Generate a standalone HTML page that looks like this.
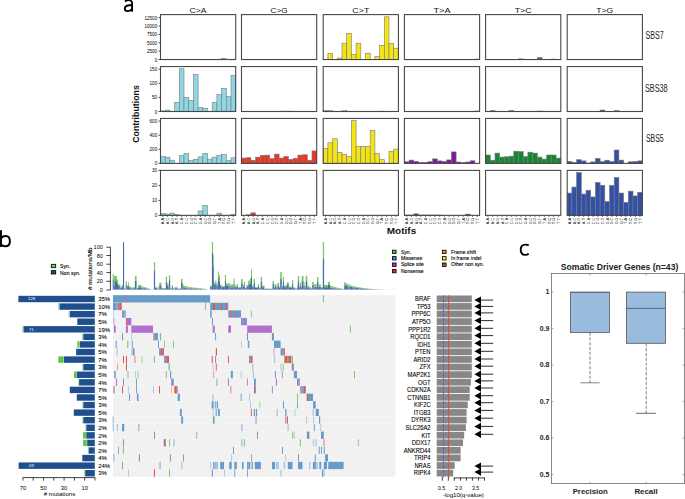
<!DOCTYPE html><html><head><meta charset="utf-8"><style>html,body{margin:0;padding:0;background:#fff;}svg{display:block;} text{font-family:"Liberation Sans",sans-serif;}</style></head><body>
<svg width="685" height="499" viewBox="0 0 685 499">
<rect x="0" y="0" width="685" height="499" fill="#fff"/>
<rect x="160.50" y="59.25" width="4.70" height="0.30" fill="#8cd7e4" stroke="#7a7a7a" stroke-width="0.6"/>
<rect x="165.20" y="59.25" width="4.70" height="0.30" fill="#8cd7e4" stroke="#7a7a7a" stroke-width="0.6"/>
<rect x="174.60" y="59.25" width="4.70" height="0.30" fill="#8cd7e4" stroke="#7a7a7a" stroke-width="0.6"/>
<rect x="179.30" y="59.25" width="4.70" height="0.30" fill="#8cd7e4" stroke="#7a7a7a" stroke-width="0.6"/>
<rect x="188.70" y="59.25" width="4.70" height="0.30" fill="#8cd7e4" stroke="#7a7a7a" stroke-width="0.6"/>
<rect x="193.40" y="59.25" width="4.70" height="0.30" fill="#8cd7e4" stroke="#7a7a7a" stroke-width="0.6"/>
<rect x="216.90" y="59.25" width="4.70" height="0.30" fill="#8cd7e4" stroke="#7a7a7a" stroke-width="0.6"/>
<rect x="221.60" y="58.35" width="4.70" height="1.20" fill="#8cd7e4" stroke="#7a7a7a" stroke-width="0.6"/>
<rect x="226.30" y="59.25" width="4.70" height="0.30" fill="#8cd7e4" stroke="#7a7a7a" stroke-width="0.6"/>
<rect x="231.00" y="59.25" width="4.70" height="0.30" fill="#8cd7e4" stroke="#7a7a7a" stroke-width="0.6"/>
<rect x="160.5" y="14.6" width="75.2" height="44.95" fill="none" stroke="#484848" stroke-width="1.1"/>
<rect x="274.40" y="59.25" width="4.70" height="0.30" fill="#e83723" stroke="#7a7a7a" stroke-width="0.6"/>
<rect x="279.10" y="59.25" width="4.70" height="0.30" fill="#e83723" stroke="#7a7a7a" stroke-width="0.6"/>
<rect x="307.30" y="59.25" width="4.70" height="0.30" fill="#e83723" stroke="#7a7a7a" stroke-width="0.6"/>
<rect x="312.00" y="59.25" width="4.70" height="0.30" fill="#e83723" stroke="#7a7a7a" stroke-width="0.6"/>
<rect x="241.5" y="14.6" width="75.2" height="44.95" fill="none" stroke="#484848" stroke-width="1.1"/>
<rect x="327.90" y="53.55" width="4.70" height="6.00" fill="#f5e414" stroke="#7a7a7a" stroke-width="0.6"/>
<rect x="337.30" y="58.05" width="4.70" height="1.50" fill="#f5e414" stroke="#7a7a7a" stroke-width="0.6"/>
<rect x="342.00" y="43.25" width="4.70" height="16.30" fill="#f5e414" stroke="#7a7a7a" stroke-width="0.6"/>
<rect x="346.70" y="33.45" width="4.70" height="26.10" fill="#f5e414" stroke="#7a7a7a" stroke-width="0.6"/>
<rect x="351.40" y="54.55" width="4.70" height="5.00" fill="#f5e414" stroke="#7a7a7a" stroke-width="0.6"/>
<rect x="356.10" y="43.25" width="4.70" height="16.30" fill="#f5e414" stroke="#7a7a7a" stroke-width="0.6"/>
<rect x="365.50" y="53.25" width="4.70" height="6.30" fill="#f5e414" stroke="#7a7a7a" stroke-width="0.6"/>
<rect x="374.90" y="56.65" width="4.70" height="2.90" fill="#f5e414" stroke="#7a7a7a" stroke-width="0.6"/>
<rect x="379.60" y="45.35" width="4.70" height="14.20" fill="#f5e414" stroke="#7a7a7a" stroke-width="0.6"/>
<rect x="384.30" y="16.85" width="4.70" height="42.70" fill="#f5e414" stroke="#7a7a7a" stroke-width="0.6"/>
<rect x="389.00" y="43.65" width="4.70" height="15.90" fill="#f5e414" stroke="#7a7a7a" stroke-width="0.6"/>
<rect x="393.70" y="48.25" width="4.70" height="11.30" fill="#f5e414" stroke="#7a7a7a" stroke-width="0.6"/>
<rect x="323.2" y="14.6" width="75.2" height="44.95" fill="none" stroke="#484848" stroke-width="1.1"/>
<rect x="474.90" y="59.05" width="4.70" height="0.50" fill="#8214a0" stroke="#7a7a7a" stroke-width="0.6"/>
<rect x="404.4" y="14.6" width="75.2" height="44.95" fill="none" stroke="#484848" stroke-width="1.1"/>
<rect x="518.50" y="58.85" width="4.70" height="0.70" fill="#148732" stroke="#7a7a7a" stroke-width="0.6"/>
<rect x="537.30" y="57.55" width="4.70" height="2.00" fill="#148732" stroke="#7a7a7a" stroke-width="0.6"/>
<rect x="551.40" y="59.05" width="4.70" height="0.50" fill="#148732" stroke="#7a7a7a" stroke-width="0.6"/>
<rect x="485.6" y="14.6" width="75.2" height="44.95" fill="none" stroke="#484848" stroke-width="1.1"/>
<rect x="567.20" y="59.25" width="4.70" height="0.30" fill="#3250a5" stroke="#7a7a7a" stroke-width="0.6"/>
<rect x="581.30" y="59.25" width="4.70" height="0.30" fill="#3250a5" stroke="#7a7a7a" stroke-width="0.6"/>
<rect x="595.40" y="59.25" width="4.70" height="0.30" fill="#3250a5" stroke="#7a7a7a" stroke-width="0.6"/>
<rect x="609.50" y="59.25" width="4.70" height="0.30" fill="#3250a5" stroke="#7a7a7a" stroke-width="0.6"/>
<rect x="567.2" y="14.6" width="75.2" height="44.95" fill="none" stroke="#484848" stroke-width="1.1"/>
<rect x="160.50" y="110.90" width="4.70" height="0.60" fill="#8cd7e4" stroke="#7a7a7a" stroke-width="0.6"/>
<rect x="165.20" y="110.10" width="4.70" height="1.40" fill="#8cd7e4" stroke="#7a7a7a" stroke-width="0.6"/>
<rect x="174.60" y="102.40" width="4.70" height="9.10" fill="#8cd7e4" stroke="#7a7a7a" stroke-width="0.6"/>
<rect x="179.30" y="68.70" width="4.70" height="42.80" fill="#8cd7e4" stroke="#7a7a7a" stroke-width="0.6"/>
<rect x="184.00" y="97.50" width="4.70" height="14.00" fill="#8cd7e4" stroke="#7a7a7a" stroke-width="0.6"/>
<rect x="188.70" y="100.30" width="4.70" height="11.20" fill="#8cd7e4" stroke="#7a7a7a" stroke-width="0.6"/>
<rect x="193.40" y="74.50" width="4.70" height="37.00" fill="#8cd7e4" stroke="#7a7a7a" stroke-width="0.6"/>
<rect x="198.10" y="107.40" width="4.70" height="4.10" fill="#8cd7e4" stroke="#7a7a7a" stroke-width="0.6"/>
<rect x="202.80" y="108.30" width="4.70" height="3.20" fill="#8cd7e4" stroke="#7a7a7a" stroke-width="0.6"/>
<rect x="212.20" y="102.40" width="4.70" height="9.10" fill="#8cd7e4" stroke="#7a7a7a" stroke-width="0.6"/>
<rect x="216.90" y="94.40" width="4.70" height="17.10" fill="#8cd7e4" stroke="#7a7a7a" stroke-width="0.6"/>
<rect x="221.60" y="88.50" width="4.70" height="23.00" fill="#8cd7e4" stroke="#7a7a7a" stroke-width="0.6"/>
<rect x="226.30" y="96.50" width="4.70" height="15.00" fill="#8cd7e4" stroke="#7a7a7a" stroke-width="0.6"/>
<rect x="231.00" y="75.50" width="4.70" height="36.00" fill="#8cd7e4" stroke="#7a7a7a" stroke-width="0.6"/>
<rect x="160.5" y="66.55" width="75.2" height="44.95" fill="none" stroke="#484848" stroke-width="1.1"/>
<rect x="279.10" y="111.20" width="4.70" height="0.30" fill="#e83723" stroke="#7a7a7a" stroke-width="0.6"/>
<rect x="283.80" y="111.20" width="4.70" height="0.30" fill="#e83723" stroke="#7a7a7a" stroke-width="0.6"/>
<rect x="288.50" y="111.20" width="4.70" height="0.30" fill="#e83723" stroke="#7a7a7a" stroke-width="0.6"/>
<rect x="241.5" y="66.55" width="75.2" height="44.95" fill="none" stroke="#484848" stroke-width="1.1"/>
<rect x="323.20" y="110.50" width="4.70" height="1.00" fill="#f5e414" stroke="#7a7a7a" stroke-width="0.6"/>
<rect x="327.90" y="110.50" width="4.70" height="1.00" fill="#f5e414" stroke="#7a7a7a" stroke-width="0.6"/>
<rect x="342.00" y="110.50" width="4.70" height="1.00" fill="#f5e414" stroke="#7a7a7a" stroke-width="0.6"/>
<rect x="379.60" y="111.20" width="4.70" height="0.30" fill="#f5e414" stroke="#7a7a7a" stroke-width="0.6"/>
<rect x="323.2" y="66.55" width="75.2" height="44.95" fill="none" stroke="#484848" stroke-width="1.1"/>
<rect x="474.90" y="111.00" width="4.70" height="0.50" fill="#8214a0" stroke="#7a7a7a" stroke-width="0.6"/>
<rect x="404.4" y="66.55" width="75.2" height="44.95" fill="none" stroke="#484848" stroke-width="1.1"/>
<rect x="490.30" y="110.50" width="4.70" height="1.00" fill="#148732" stroke="#7a7a7a" stroke-width="0.6"/>
<rect x="509.10" y="110.50" width="4.70" height="1.00" fill="#148732" stroke="#7a7a7a" stroke-width="0.6"/>
<rect x="537.30" y="111.00" width="4.70" height="0.50" fill="#148732" stroke="#7a7a7a" stroke-width="0.6"/>
<rect x="485.6" y="66.55" width="75.2" height="44.95" fill="none" stroke="#484848" stroke-width="1.1"/>
<rect x="600.10" y="110.00" width="4.70" height="1.50" fill="#3250a5" stroke="#7a7a7a" stroke-width="0.6"/>
<rect x="614.20" y="110.50" width="4.70" height="1.00" fill="#3250a5" stroke="#7a7a7a" stroke-width="0.6"/>
<rect x="567.2" y="66.55" width="75.2" height="44.95" fill="none" stroke="#484848" stroke-width="1.1"/>
<rect x="160.50" y="156.60" width="4.70" height="6.80" fill="#8cd7e4" stroke="#7a7a7a" stroke-width="0.6"/>
<rect x="165.20" y="157.20" width="4.70" height="6.20" fill="#8cd7e4" stroke="#7a7a7a" stroke-width="0.6"/>
<rect x="169.90" y="160.20" width="4.70" height="3.20" fill="#8cd7e4" stroke="#7a7a7a" stroke-width="0.6"/>
<rect x="179.30" y="155.70" width="4.70" height="7.70" fill="#8cd7e4" stroke="#7a7a7a" stroke-width="0.6"/>
<rect x="184.00" y="153.50" width="4.70" height="9.90" fill="#8cd7e4" stroke="#7a7a7a" stroke-width="0.6"/>
<rect x="188.70" y="160.50" width="4.70" height="2.90" fill="#8cd7e4" stroke="#7a7a7a" stroke-width="0.6"/>
<rect x="193.40" y="159.30" width="4.70" height="4.10" fill="#8cd7e4" stroke="#7a7a7a" stroke-width="0.6"/>
<rect x="198.10" y="156.90" width="4.70" height="6.50" fill="#8cd7e4" stroke="#7a7a7a" stroke-width="0.6"/>
<rect x="202.80" y="153.40" width="4.70" height="10.00" fill="#8cd7e4" stroke="#7a7a7a" stroke-width="0.6"/>
<rect x="207.50" y="159.10" width="4.70" height="4.30" fill="#8cd7e4" stroke="#7a7a7a" stroke-width="0.6"/>
<rect x="212.20" y="157.20" width="4.70" height="6.20" fill="#8cd7e4" stroke="#7a7a7a" stroke-width="0.6"/>
<rect x="216.90" y="155.30" width="4.70" height="8.10" fill="#8cd7e4" stroke="#7a7a7a" stroke-width="0.6"/>
<rect x="221.60" y="154.50" width="4.70" height="8.90" fill="#8cd7e4" stroke="#7a7a7a" stroke-width="0.6"/>
<rect x="226.30" y="160.70" width="4.70" height="2.70" fill="#8cd7e4" stroke="#7a7a7a" stroke-width="0.6"/>
<rect x="231.00" y="157.80" width="4.70" height="5.60" fill="#8cd7e4" stroke="#7a7a7a" stroke-width="0.6"/>
<rect x="160.5" y="118.45" width="75.2" height="44.95" fill="none" stroke="#484848" stroke-width="1.1"/>
<rect x="241.50" y="158.10" width="4.70" height="5.30" fill="#e83723" stroke="#7a7a7a" stroke-width="0.6"/>
<rect x="246.20" y="157.70" width="4.70" height="5.70" fill="#e83723" stroke="#7a7a7a" stroke-width="0.6"/>
<rect x="250.90" y="160.30" width="4.70" height="3.10" fill="#e83723" stroke="#7a7a7a" stroke-width="0.6"/>
<rect x="255.60" y="157.20" width="4.70" height="6.20" fill="#e83723" stroke="#7a7a7a" stroke-width="0.6"/>
<rect x="260.30" y="155.30" width="4.70" height="8.10" fill="#e83723" stroke="#7a7a7a" stroke-width="0.6"/>
<rect x="265.00" y="155.10" width="4.70" height="8.30" fill="#e83723" stroke="#7a7a7a" stroke-width="0.6"/>
<rect x="269.70" y="158.70" width="4.70" height="4.70" fill="#e83723" stroke="#7a7a7a" stroke-width="0.6"/>
<rect x="274.40" y="154.10" width="4.70" height="9.30" fill="#e83723" stroke="#7a7a7a" stroke-width="0.6"/>
<rect x="279.10" y="158.10" width="4.70" height="5.30" fill="#e83723" stroke="#7a7a7a" stroke-width="0.6"/>
<rect x="283.80" y="156.60" width="4.70" height="6.80" fill="#e83723" stroke="#7a7a7a" stroke-width="0.6"/>
<rect x="288.50" y="159.30" width="4.70" height="4.10" fill="#e83723" stroke="#7a7a7a" stroke-width="0.6"/>
<rect x="293.20" y="158.30" width="4.70" height="5.10" fill="#e83723" stroke="#7a7a7a" stroke-width="0.6"/>
<rect x="297.90" y="155.10" width="4.70" height="8.30" fill="#e83723" stroke="#7a7a7a" stroke-width="0.6"/>
<rect x="302.60" y="154.80" width="4.70" height="8.60" fill="#e83723" stroke="#7a7a7a" stroke-width="0.6"/>
<rect x="307.30" y="160.20" width="4.70" height="3.20" fill="#e83723" stroke="#7a7a7a" stroke-width="0.6"/>
<rect x="312.00" y="150.90" width="4.70" height="12.50" fill="#e83723" stroke="#7a7a7a" stroke-width="0.6"/>
<rect x="241.5" y="118.45" width="75.2" height="44.95" fill="none" stroke="#484848" stroke-width="1.1"/>
<rect x="323.20" y="148.50" width="4.70" height="14.90" fill="#f5e414" stroke="#7a7a7a" stroke-width="0.6"/>
<rect x="327.90" y="142.80" width="4.70" height="20.60" fill="#f5e414" stroke="#7a7a7a" stroke-width="0.6"/>
<rect x="332.60" y="138.80" width="4.70" height="24.60" fill="#f5e414" stroke="#7a7a7a" stroke-width="0.6"/>
<rect x="337.30" y="152.50" width="4.70" height="10.90" fill="#f5e414" stroke="#7a7a7a" stroke-width="0.6"/>
<rect x="342.00" y="154.60" width="4.70" height="8.80" fill="#f5e414" stroke="#7a7a7a" stroke-width="0.6"/>
<rect x="346.70" y="156.50" width="4.70" height="6.90" fill="#f5e414" stroke="#7a7a7a" stroke-width="0.6"/>
<rect x="351.40" y="120.60" width="4.70" height="42.80" fill="#f5e414" stroke="#7a7a7a" stroke-width="0.6"/>
<rect x="356.10" y="146.50" width="4.70" height="16.90" fill="#f5e414" stroke="#7a7a7a" stroke-width="0.6"/>
<rect x="360.80" y="146.30" width="4.70" height="17.10" fill="#f5e414" stroke="#7a7a7a" stroke-width="0.6"/>
<rect x="365.50" y="146.50" width="4.70" height="16.90" fill="#f5e414" stroke="#7a7a7a" stroke-width="0.6"/>
<rect x="370.20" y="130.40" width="4.70" height="33.00" fill="#f5e414" stroke="#7a7a7a" stroke-width="0.6"/>
<rect x="374.90" y="153.50" width="4.70" height="9.90" fill="#f5e414" stroke="#7a7a7a" stroke-width="0.6"/>
<rect x="379.60" y="159.70" width="4.70" height="3.70" fill="#f5e414" stroke="#7a7a7a" stroke-width="0.6"/>
<rect x="389.00" y="151.50" width="4.70" height="11.90" fill="#f5e414" stroke="#7a7a7a" stroke-width="0.6"/>
<rect x="393.70" y="149.10" width="4.70" height="14.30" fill="#f5e414" stroke="#7a7a7a" stroke-width="0.6"/>
<rect x="323.2" y="118.45" width="75.2" height="44.95" fill="none" stroke="#484848" stroke-width="1.1"/>
<rect x="404.40" y="161.80" width="4.70" height="1.60" fill="#8214a0" stroke="#7a7a7a" stroke-width="0.6"/>
<rect x="409.10" y="160.10" width="4.70" height="3.30" fill="#8214a0" stroke="#7a7a7a" stroke-width="0.6"/>
<rect x="413.80" y="161.30" width="4.70" height="2.10" fill="#8214a0" stroke="#7a7a7a" stroke-width="0.6"/>
<rect x="418.50" y="162.40" width="4.70" height="1.00" fill="#8214a0" stroke="#7a7a7a" stroke-width="0.6"/>
<rect x="423.20" y="162.40" width="4.70" height="1.00" fill="#8214a0" stroke="#7a7a7a" stroke-width="0.6"/>
<rect x="427.90" y="161.70" width="4.70" height="1.70" fill="#8214a0" stroke="#7a7a7a" stroke-width="0.6"/>
<rect x="432.60" y="158.90" width="4.70" height="4.50" fill="#8214a0" stroke="#7a7a7a" stroke-width="0.6"/>
<rect x="437.30" y="160.90" width="4.70" height="2.50" fill="#8214a0" stroke="#7a7a7a" stroke-width="0.6"/>
<rect x="442.00" y="161.50" width="4.70" height="1.90" fill="#8214a0" stroke="#7a7a7a" stroke-width="0.6"/>
<rect x="446.70" y="159.90" width="4.70" height="3.50" fill="#8214a0" stroke="#7a7a7a" stroke-width="0.6"/>
<rect x="451.40" y="151.90" width="4.70" height="11.50" fill="#8214a0" stroke="#7a7a7a" stroke-width="0.6"/>
<rect x="456.10" y="162.00" width="4.70" height="1.40" fill="#8214a0" stroke="#7a7a7a" stroke-width="0.6"/>
<rect x="460.80" y="162.50" width="4.70" height="0.90" fill="#8214a0" stroke="#7a7a7a" stroke-width="0.6"/>
<rect x="465.50" y="162.00" width="4.70" height="1.40" fill="#8214a0" stroke="#7a7a7a" stroke-width="0.6"/>
<rect x="470.20" y="160.80" width="4.70" height="2.60" fill="#8214a0" stroke="#7a7a7a" stroke-width="0.6"/>
<rect x="404.4" y="118.45" width="75.2" height="44.95" fill="none" stroke="#484848" stroke-width="1.1"/>
<rect x="485.60" y="155.00" width="4.70" height="8.40" fill="#148732" stroke="#7a7a7a" stroke-width="0.6"/>
<rect x="490.30" y="160.20" width="4.70" height="3.20" fill="#148732" stroke="#7a7a7a" stroke-width="0.6"/>
<rect x="495.00" y="153.10" width="4.70" height="10.30" fill="#148732" stroke="#7a7a7a" stroke-width="0.6"/>
<rect x="499.70" y="157.10" width="4.70" height="6.30" fill="#148732" stroke="#7a7a7a" stroke-width="0.6"/>
<rect x="504.40" y="156.80" width="4.70" height="6.60" fill="#148732" stroke="#7a7a7a" stroke-width="0.6"/>
<rect x="509.10" y="156.20" width="4.70" height="7.20" fill="#148732" stroke="#7a7a7a" stroke-width="0.6"/>
<rect x="513.80" y="151.20" width="4.70" height="12.20" fill="#148732" stroke="#7a7a7a" stroke-width="0.6"/>
<rect x="518.50" y="151.60" width="4.70" height="11.80" fill="#148732" stroke="#7a7a7a" stroke-width="0.6"/>
<rect x="523.20" y="156.60" width="4.70" height="6.80" fill="#148732" stroke="#7a7a7a" stroke-width="0.6"/>
<rect x="527.90" y="152.20" width="4.70" height="11.20" fill="#148732" stroke="#7a7a7a" stroke-width="0.6"/>
<rect x="532.60" y="153.10" width="4.70" height="10.30" fill="#148732" stroke="#7a7a7a" stroke-width="0.6"/>
<rect x="537.30" y="157.10" width="4.70" height="6.30" fill="#148732" stroke="#7a7a7a" stroke-width="0.6"/>
<rect x="542.00" y="159.10" width="4.70" height="4.30" fill="#148732" stroke="#7a7a7a" stroke-width="0.6"/>
<rect x="546.70" y="155.00" width="4.70" height="8.40" fill="#148732" stroke="#7a7a7a" stroke-width="0.6"/>
<rect x="551.40" y="155.00" width="4.70" height="8.40" fill="#148732" stroke="#7a7a7a" stroke-width="0.6"/>
<rect x="556.10" y="158.10" width="4.70" height="5.30" fill="#148732" stroke="#7a7a7a" stroke-width="0.6"/>
<rect x="485.6" y="118.45" width="75.2" height="44.95" fill="none" stroke="#484848" stroke-width="1.1"/>
<rect x="567.20" y="161.40" width="4.70" height="2.00" fill="#3250a5" stroke="#7a7a7a" stroke-width="0.6"/>
<rect x="571.90" y="162.40" width="4.70" height="1.00" fill="#3250a5" stroke="#7a7a7a" stroke-width="0.6"/>
<rect x="576.60" y="159.70" width="4.70" height="3.70" fill="#3250a5" stroke="#7a7a7a" stroke-width="0.6"/>
<rect x="581.30" y="160.90" width="4.70" height="2.50" fill="#3250a5" stroke="#7a7a7a" stroke-width="0.6"/>
<rect x="586.00" y="163.10" width="4.70" height="0.30" fill="#3250a5" stroke="#7a7a7a" stroke-width="0.6"/>
<rect x="590.70" y="161.90" width="4.70" height="1.50" fill="#3250a5" stroke="#7a7a7a" stroke-width="0.6"/>
<rect x="595.40" y="158.40" width="4.70" height="5.00" fill="#3250a5" stroke="#7a7a7a" stroke-width="0.6"/>
<rect x="600.10" y="161.50" width="4.70" height="1.90" fill="#3250a5" stroke="#7a7a7a" stroke-width="0.6"/>
<rect x="604.80" y="160.20" width="4.70" height="3.20" fill="#3250a5" stroke="#7a7a7a" stroke-width="0.6"/>
<rect x="609.50" y="161.50" width="4.70" height="1.90" fill="#3250a5" stroke="#7a7a7a" stroke-width="0.6"/>
<rect x="614.20" y="150.00" width="4.70" height="13.40" fill="#3250a5" stroke="#7a7a7a" stroke-width="0.6"/>
<rect x="618.90" y="160.10" width="4.70" height="3.30" fill="#3250a5" stroke="#7a7a7a" stroke-width="0.6"/>
<rect x="628.30" y="161.80" width="4.70" height="1.60" fill="#3250a5" stroke="#7a7a7a" stroke-width="0.6"/>
<rect x="633.00" y="161.50" width="4.70" height="1.90" fill="#3250a5" stroke="#7a7a7a" stroke-width="0.6"/>
<rect x="637.70" y="160.90" width="4.70" height="2.50" fill="#3250a5" stroke="#7a7a7a" stroke-width="0.6"/>
<rect x="567.2" y="118.45" width="75.2" height="44.95" fill="none" stroke="#484848" stroke-width="1.1"/>
<rect x="160.50" y="213.60" width="4.70" height="1.75" fill="#8cd7e4" stroke="#7a7a7a" stroke-width="0.6"/>
<rect x="165.20" y="214.15" width="4.70" height="1.20" fill="#8cd7e4" stroke="#7a7a7a" stroke-width="0.6"/>
<rect x="169.90" y="213.15" width="4.70" height="2.20" fill="#8cd7e4" stroke="#7a7a7a" stroke-width="0.6"/>
<rect x="174.60" y="214.75" width="4.70" height="0.60" fill="#8cd7e4" stroke="#7a7a7a" stroke-width="0.6"/>
<rect x="198.10" y="210.95" width="4.70" height="4.40" fill="#8cd7e4" stroke="#7a7a7a" stroke-width="0.6"/>
<rect x="202.80" y="205.45" width="4.70" height="9.90" fill="#8cd7e4" stroke="#7a7a7a" stroke-width="0.6"/>
<rect x="216.90" y="213.15" width="4.70" height="2.20" fill="#8cd7e4" stroke="#7a7a7a" stroke-width="0.6"/>
<rect x="231.00" y="214.65" width="4.70" height="0.70" fill="#8cd7e4" stroke="#7a7a7a" stroke-width="0.6"/>
<rect x="160.5" y="170.4" width="75.2" height="44.95" fill="none" stroke="#484848" stroke-width="1.1"/>
<rect x="246.20" y="214.85" width="4.70" height="0.50" fill="#e83723" stroke="#7a7a7a" stroke-width="0.6"/>
<rect x="250.90" y="212.85" width="4.70" height="2.50" fill="#e83723" stroke="#7a7a7a" stroke-width="0.6"/>
<rect x="241.5" y="170.4" width="75.2" height="44.95" fill="none" stroke="#484848" stroke-width="1.1"/>
<rect x="323.2" y="170.4" width="75.2" height="44.95" fill="none" stroke="#484848" stroke-width="1.1"/>
<rect x="404.40" y="215.05" width="4.70" height="0.30" fill="#8214a0" stroke="#7a7a7a" stroke-width="0.6"/>
<rect x="409.10" y="215.05" width="4.70" height="0.30" fill="#8214a0" stroke="#7a7a7a" stroke-width="0.6"/>
<rect x="413.80" y="213.85" width="4.70" height="1.50" fill="#8214a0" stroke="#7a7a7a" stroke-width="0.6"/>
<rect x="418.50" y="215.05" width="4.70" height="0.30" fill="#8214a0" stroke="#7a7a7a" stroke-width="0.6"/>
<rect x="423.20" y="215.05" width="4.70" height="0.30" fill="#8214a0" stroke="#7a7a7a" stroke-width="0.6"/>
<rect x="427.90" y="215.05" width="4.70" height="0.30" fill="#8214a0" stroke="#7a7a7a" stroke-width="0.6"/>
<rect x="432.60" y="215.05" width="4.70" height="0.30" fill="#8214a0" stroke="#7a7a7a" stroke-width="0.6"/>
<rect x="437.30" y="215.05" width="4.70" height="0.30" fill="#8214a0" stroke="#7a7a7a" stroke-width="0.6"/>
<rect x="465.50" y="214.15" width="4.70" height="1.20" fill="#8214a0" stroke="#7a7a7a" stroke-width="0.6"/>
<rect x="404.4" y="170.4" width="75.2" height="44.95" fill="none" stroke="#484848" stroke-width="1.1"/>
<rect x="485.6" y="170.4" width="75.2" height="44.95" fill="none" stroke="#484848" stroke-width="1.1"/>
<rect x="567.20" y="193.05" width="4.70" height="22.30" fill="#3250a5" stroke="#7a7a7a" stroke-width="0.6"/>
<rect x="571.90" y="187.05" width="4.70" height="28.30" fill="#3250a5" stroke="#7a7a7a" stroke-width="0.6"/>
<rect x="576.60" y="172.45" width="4.70" height="42.90" fill="#3250a5" stroke="#7a7a7a" stroke-width="0.6"/>
<rect x="581.30" y="194.05" width="4.70" height="21.30" fill="#3250a5" stroke="#7a7a7a" stroke-width="0.6"/>
<rect x="586.00" y="190.25" width="4.70" height="25.10" fill="#3250a5" stroke="#7a7a7a" stroke-width="0.6"/>
<rect x="590.70" y="196.95" width="4.70" height="18.40" fill="#3250a5" stroke="#7a7a7a" stroke-width="0.6"/>
<rect x="595.40" y="182.45" width="4.70" height="32.90" fill="#3250a5" stroke="#7a7a7a" stroke-width="0.6"/>
<rect x="600.10" y="185.25" width="4.70" height="30.10" fill="#3250a5" stroke="#7a7a7a" stroke-width="0.6"/>
<rect x="604.80" y="201.55" width="4.70" height="13.80" fill="#3250a5" stroke="#7a7a7a" stroke-width="0.6"/>
<rect x="609.50" y="185.45" width="4.70" height="29.90" fill="#3250a5" stroke="#7a7a7a" stroke-width="0.6"/>
<rect x="614.20" y="177.55" width="4.70" height="37.80" fill="#3250a5" stroke="#7a7a7a" stroke-width="0.6"/>
<rect x="618.90" y="193.05" width="4.70" height="22.30" fill="#3250a5" stroke="#7a7a7a" stroke-width="0.6"/>
<rect x="623.60" y="202.35" width="4.70" height="13.00" fill="#3250a5" stroke="#7a7a7a" stroke-width="0.6"/>
<rect x="628.30" y="191.15" width="4.70" height="24.20" fill="#3250a5" stroke="#7a7a7a" stroke-width="0.6"/>
<rect x="633.00" y="195.95" width="4.70" height="19.40" fill="#3250a5" stroke="#7a7a7a" stroke-width="0.6"/>
<rect x="637.70" y="192.25" width="4.70" height="23.10" fill="#3250a5" stroke="#7a7a7a" stroke-width="0.6"/>
<rect x="567.2" y="170.4" width="75.2" height="44.95" fill="none" stroke="#484848" stroke-width="1.1"/>
<text x="189.6" y="12.6" font-size="7" fill="#111" textLength="17" lengthAdjust="spacingAndGlyphs">C&gt;A</text>
<text x="270.6" y="12.6" font-size="7" fill="#111" textLength="17" lengthAdjust="spacingAndGlyphs">C&gt;G</text>
<text x="352.3" y="12.6" font-size="7" fill="#111" textLength="17" lengthAdjust="spacingAndGlyphs">C&gt;T</text>
<text x="433.5" y="12.6" font-size="7" fill="#111" textLength="17" lengthAdjust="spacingAndGlyphs">T&gt;A</text>
<text x="514.7" y="12.6" font-size="7" fill="#111" textLength="17" lengthAdjust="spacingAndGlyphs">T&gt;C</text>
<text x="596.3" y="12.6" font-size="7" fill="#111" textLength="17" lengthAdjust="spacingAndGlyphs">T&gt;G</text>
<line x1="158.5" y1="59.5" x2="160.5" y2="59.5" stroke="#222" stroke-width="0.8"/>
<text x="157.2" y="61.5" font-size="4.6" text-anchor="end" fill="#000">0</text>
<line x1="158.5" y1="51.1" x2="160.5" y2="51.1" stroke="#222" stroke-width="0.8"/>
<text x="157.2" y="53.1" font-size="4.6" text-anchor="end" fill="#000">2500</text>
<line x1="158.5" y1="42.8" x2="160.5" y2="42.8" stroke="#222" stroke-width="0.8"/>
<text x="157.2" y="44.8" font-size="4.6" text-anchor="end" fill="#000">5000</text>
<line x1="158.5" y1="34.4" x2="160.5" y2="34.4" stroke="#222" stroke-width="0.8"/>
<text x="157.2" y="36.4" font-size="4.6" text-anchor="end" fill="#000">7500</text>
<line x1="158.5" y1="26.1" x2="160.5" y2="26.1" stroke="#222" stroke-width="0.8"/>
<text x="157.2" y="28.1" font-size="4.6" text-anchor="end" fill="#000">10000</text>
<line x1="158.5" y1="17.7" x2="160.5" y2="17.7" stroke="#222" stroke-width="0.8"/>
<text x="157.2" y="19.7" font-size="4.6" text-anchor="end" fill="#000">12500</text>
<line x1="158.5" y1="111.5" x2="160.5" y2="111.5" stroke="#222" stroke-width="0.8"/>
<text x="157.2" y="113.5" font-size="4.6" text-anchor="end" fill="#000">0</text>
<line x1="158.5" y1="97.4" x2="160.5" y2="97.4" stroke="#222" stroke-width="0.8"/>
<text x="157.2" y="99.4" font-size="4.6" text-anchor="end" fill="#000">50</text>
<line x1="158.5" y1="83.3" x2="160.5" y2="83.3" stroke="#222" stroke-width="0.8"/>
<text x="157.2" y="85.3" font-size="4.6" text-anchor="end" fill="#000">100</text>
<line x1="158.5" y1="69.2" x2="160.5" y2="69.2" stroke="#222" stroke-width="0.8"/>
<text x="157.2" y="71.2" font-size="4.6" text-anchor="end" fill="#000">150</text>
<line x1="158.5" y1="163.4" x2="160.5" y2="163.4" stroke="#222" stroke-width="0.8"/>
<text x="157.2" y="165.4" font-size="4.6" text-anchor="end" fill="#000">0</text>
<line x1="158.5" y1="149.3" x2="160.5" y2="149.3" stroke="#222" stroke-width="0.8"/>
<text x="157.2" y="151.3" font-size="4.6" text-anchor="end" fill="#000">200</text>
<line x1="158.5" y1="135.2" x2="160.5" y2="135.2" stroke="#222" stroke-width="0.8"/>
<text x="157.2" y="137.2" font-size="4.6" text-anchor="end" fill="#000">400</text>
<line x1="158.5" y1="121.1" x2="160.5" y2="121.1" stroke="#222" stroke-width="0.8"/>
<text x="157.2" y="123.1" font-size="4.6" text-anchor="end" fill="#000">600</text>
<line x1="158.5" y1="215.35" x2="160.5" y2="215.35" stroke="#222" stroke-width="0.8"/>
<text x="157.2" y="217.3" font-size="4.6" text-anchor="end" fill="#000">0</text>
<line x1="158.5" y1="200.4" x2="160.5" y2="200.4" stroke="#222" stroke-width="0.8"/>
<text x="157.2" y="202.4" font-size="4.6" text-anchor="end" fill="#000">10</text>
<line x1="158.5" y1="185.4" x2="160.5" y2="185.4" stroke="#222" stroke-width="0.8"/>
<text x="157.2" y="187.4" font-size="4.6" text-anchor="end" fill="#000">20</text>
<line x1="158.5" y1="170.4" x2="160.5" y2="170.4" stroke="#222" stroke-width="0.8"/>
<text x="157.2" y="172.4" font-size="4.6" text-anchor="end" fill="#000">30</text>
<text x="645.6" y="38.7" font-size="10" fill="#222" textLength="18.1" lengthAdjust="spacingAndGlyphs">SBS7</text>
<text x="644.9" y="92.2" font-size="10" fill="#222" textLength="22.8" lengthAdjust="spacingAndGlyphs">SBS38</text>
<text x="645.9" y="141.5" font-size="10" fill="#222" textLength="17.8" lengthAdjust="spacingAndGlyphs">SBS5</text>
<line x1="162.85" y1="215.5" x2="162.85" y2="217.0" stroke="#222" stroke-width="0.6"/>
<text transform="translate(164.30,217.8) rotate(-90)" font-size="4.0" text-anchor="end" fill="#111" textLength="6.4" lengthAdjust="spacingAndGlyphs">A.A</text>
<line x1="167.55" y1="215.5" x2="167.55" y2="217.0" stroke="#222" stroke-width="0.6"/>
<text transform="translate(169.00,217.8) rotate(-90)" font-size="4.0" text-anchor="end" fill="#111" textLength="6.4" lengthAdjust="spacingAndGlyphs">A.C</text>
<line x1="172.25" y1="215.5" x2="172.25" y2="217.0" stroke="#222" stroke-width="0.6"/>
<text transform="translate(173.70,217.8) rotate(-90)" font-size="4.0" text-anchor="end" fill="#111" textLength="6.4" lengthAdjust="spacingAndGlyphs">A.G</text>
<line x1="176.95" y1="215.5" x2="176.95" y2="217.0" stroke="#222" stroke-width="0.6"/>
<text transform="translate(178.40,217.8) rotate(-90)" font-size="4.0" text-anchor="end" fill="#111" textLength="6.4" lengthAdjust="spacingAndGlyphs">A.T</text>
<line x1="181.65" y1="215.5" x2="181.65" y2="217.0" stroke="#222" stroke-width="0.6"/>
<text transform="translate(183.10,217.8) rotate(-90)" font-size="4.0" text-anchor="end" fill="#111" textLength="6.4" lengthAdjust="spacingAndGlyphs">C.A</text>
<line x1="186.35" y1="215.5" x2="186.35" y2="217.0" stroke="#222" stroke-width="0.6"/>
<text transform="translate(187.80,217.8) rotate(-90)" font-size="4.0" text-anchor="end" fill="#111" textLength="6.4" lengthAdjust="spacingAndGlyphs">C.C</text>
<line x1="191.05" y1="215.5" x2="191.05" y2="217.0" stroke="#222" stroke-width="0.6"/>
<text transform="translate(192.50,217.8) rotate(-90)" font-size="4.0" text-anchor="end" fill="#111" textLength="6.4" lengthAdjust="spacingAndGlyphs">C.G</text>
<line x1="195.75" y1="215.5" x2="195.75" y2="217.0" stroke="#222" stroke-width="0.6"/>
<text transform="translate(197.20,217.8) rotate(-90)" font-size="4.0" text-anchor="end" fill="#111" textLength="6.4" lengthAdjust="spacingAndGlyphs">C.T</text>
<line x1="200.45" y1="215.5" x2="200.45" y2="217.0" stroke="#222" stroke-width="0.6"/>
<text transform="translate(201.90,217.8) rotate(-90)" font-size="4.0" text-anchor="end" fill="#111" textLength="6.4" lengthAdjust="spacingAndGlyphs">G.A</text>
<line x1="205.15" y1="215.5" x2="205.15" y2="217.0" stroke="#222" stroke-width="0.6"/>
<text transform="translate(206.60,217.8) rotate(-90)" font-size="4.0" text-anchor="end" fill="#111" textLength="6.4" lengthAdjust="spacingAndGlyphs">G.C</text>
<line x1="209.85" y1="215.5" x2="209.85" y2="217.0" stroke="#222" stroke-width="0.6"/>
<text transform="translate(211.30,217.8) rotate(-90)" font-size="4.0" text-anchor="end" fill="#111" textLength="6.4" lengthAdjust="spacingAndGlyphs">G.G</text>
<line x1="214.55" y1="215.5" x2="214.55" y2="217.0" stroke="#222" stroke-width="0.6"/>
<text transform="translate(216.00,217.8) rotate(-90)" font-size="4.0" text-anchor="end" fill="#111" textLength="6.4" lengthAdjust="spacingAndGlyphs">G.T</text>
<line x1="219.25" y1="215.5" x2="219.25" y2="217.0" stroke="#222" stroke-width="0.6"/>
<text transform="translate(220.70,217.8) rotate(-90)" font-size="4.0" text-anchor="end" fill="#111" textLength="6.4" lengthAdjust="spacingAndGlyphs">T.A</text>
<line x1="223.95" y1="215.5" x2="223.95" y2="217.0" stroke="#222" stroke-width="0.6"/>
<text transform="translate(225.40,217.8) rotate(-90)" font-size="4.0" text-anchor="end" fill="#111" textLength="6.4" lengthAdjust="spacingAndGlyphs">T.C</text>
<line x1="228.65" y1="215.5" x2="228.65" y2="217.0" stroke="#222" stroke-width="0.6"/>
<text transform="translate(230.10,217.8) rotate(-90)" font-size="4.0" text-anchor="end" fill="#111" textLength="6.4" lengthAdjust="spacingAndGlyphs">T.G</text>
<line x1="233.35" y1="215.5" x2="233.35" y2="217.0" stroke="#222" stroke-width="0.6"/>
<text transform="translate(234.80,217.8) rotate(-90)" font-size="4.0" text-anchor="end" fill="#111" textLength="6.4" lengthAdjust="spacingAndGlyphs">T.T</text>
<line x1="243.85" y1="215.5" x2="243.85" y2="217.0" stroke="#222" stroke-width="0.6"/>
<text transform="translate(245.30,217.8) rotate(-90)" font-size="4.0" text-anchor="end" fill="#111" textLength="6.4" lengthAdjust="spacingAndGlyphs">A.A</text>
<line x1="248.55" y1="215.5" x2="248.55" y2="217.0" stroke="#222" stroke-width="0.6"/>
<text transform="translate(250.00,217.8) rotate(-90)" font-size="4.0" text-anchor="end" fill="#111" textLength="6.4" lengthAdjust="spacingAndGlyphs">A.C</text>
<line x1="253.25" y1="215.5" x2="253.25" y2="217.0" stroke="#222" stroke-width="0.6"/>
<text transform="translate(254.70,217.8) rotate(-90)" font-size="4.0" text-anchor="end" fill="#111" textLength="6.4" lengthAdjust="spacingAndGlyphs">A.G</text>
<line x1="257.95" y1="215.5" x2="257.95" y2="217.0" stroke="#222" stroke-width="0.6"/>
<text transform="translate(259.40,217.8) rotate(-90)" font-size="4.0" text-anchor="end" fill="#111" textLength="6.4" lengthAdjust="spacingAndGlyphs">A.T</text>
<line x1="262.65" y1="215.5" x2="262.65" y2="217.0" stroke="#222" stroke-width="0.6"/>
<text transform="translate(264.10,217.8) rotate(-90)" font-size="4.0" text-anchor="end" fill="#111" textLength="6.4" lengthAdjust="spacingAndGlyphs">C.A</text>
<line x1="267.35" y1="215.5" x2="267.35" y2="217.0" stroke="#222" stroke-width="0.6"/>
<text transform="translate(268.80,217.8) rotate(-90)" font-size="4.0" text-anchor="end" fill="#111" textLength="6.4" lengthAdjust="spacingAndGlyphs">C.C</text>
<line x1="272.05" y1="215.5" x2="272.05" y2="217.0" stroke="#222" stroke-width="0.6"/>
<text transform="translate(273.50,217.8) rotate(-90)" font-size="4.0" text-anchor="end" fill="#111" textLength="6.4" lengthAdjust="spacingAndGlyphs">C.G</text>
<line x1="276.75" y1="215.5" x2="276.75" y2="217.0" stroke="#222" stroke-width="0.6"/>
<text transform="translate(278.20,217.8) rotate(-90)" font-size="4.0" text-anchor="end" fill="#111" textLength="6.4" lengthAdjust="spacingAndGlyphs">C.T</text>
<line x1="281.45" y1="215.5" x2="281.45" y2="217.0" stroke="#222" stroke-width="0.6"/>
<text transform="translate(282.90,217.8) rotate(-90)" font-size="4.0" text-anchor="end" fill="#111" textLength="6.4" lengthAdjust="spacingAndGlyphs">G.A</text>
<line x1="286.15" y1="215.5" x2="286.15" y2="217.0" stroke="#222" stroke-width="0.6"/>
<text transform="translate(287.60,217.8) rotate(-90)" font-size="4.0" text-anchor="end" fill="#111" textLength="6.4" lengthAdjust="spacingAndGlyphs">G.C</text>
<line x1="290.85" y1="215.5" x2="290.85" y2="217.0" stroke="#222" stroke-width="0.6"/>
<text transform="translate(292.30,217.8) rotate(-90)" font-size="4.0" text-anchor="end" fill="#111" textLength="6.4" lengthAdjust="spacingAndGlyphs">G.G</text>
<line x1="295.55" y1="215.5" x2="295.55" y2="217.0" stroke="#222" stroke-width="0.6"/>
<text transform="translate(297.00,217.8) rotate(-90)" font-size="4.0" text-anchor="end" fill="#111" textLength="6.4" lengthAdjust="spacingAndGlyphs">G.T</text>
<line x1="300.25" y1="215.5" x2="300.25" y2="217.0" stroke="#222" stroke-width="0.6"/>
<text transform="translate(301.70,217.8) rotate(-90)" font-size="4.0" text-anchor="end" fill="#111" textLength="6.4" lengthAdjust="spacingAndGlyphs">T.A</text>
<line x1="304.95" y1="215.5" x2="304.95" y2="217.0" stroke="#222" stroke-width="0.6"/>
<text transform="translate(306.40,217.8) rotate(-90)" font-size="4.0" text-anchor="end" fill="#111" textLength="6.4" lengthAdjust="spacingAndGlyphs">T.C</text>
<line x1="309.65" y1="215.5" x2="309.65" y2="217.0" stroke="#222" stroke-width="0.6"/>
<text transform="translate(311.10,217.8) rotate(-90)" font-size="4.0" text-anchor="end" fill="#111" textLength="6.4" lengthAdjust="spacingAndGlyphs">T.G</text>
<line x1="314.35" y1="215.5" x2="314.35" y2="217.0" stroke="#222" stroke-width="0.6"/>
<text transform="translate(315.80,217.8) rotate(-90)" font-size="4.0" text-anchor="end" fill="#111" textLength="6.4" lengthAdjust="spacingAndGlyphs">T.T</text>
<line x1="325.55" y1="215.5" x2="325.55" y2="217.0" stroke="#222" stroke-width="0.6"/>
<text transform="translate(327.00,217.8) rotate(-90)" font-size="4.0" text-anchor="end" fill="#111" textLength="6.4" lengthAdjust="spacingAndGlyphs">A.A</text>
<line x1="330.25" y1="215.5" x2="330.25" y2="217.0" stroke="#222" stroke-width="0.6"/>
<text transform="translate(331.70,217.8) rotate(-90)" font-size="4.0" text-anchor="end" fill="#111" textLength="6.4" lengthAdjust="spacingAndGlyphs">A.C</text>
<line x1="334.95" y1="215.5" x2="334.95" y2="217.0" stroke="#222" stroke-width="0.6"/>
<text transform="translate(336.40,217.8) rotate(-90)" font-size="4.0" text-anchor="end" fill="#111" textLength="6.4" lengthAdjust="spacingAndGlyphs">A.G</text>
<line x1="339.65" y1="215.5" x2="339.65" y2="217.0" stroke="#222" stroke-width="0.6"/>
<text transform="translate(341.10,217.8) rotate(-90)" font-size="4.0" text-anchor="end" fill="#111" textLength="6.4" lengthAdjust="spacingAndGlyphs">A.T</text>
<line x1="344.35" y1="215.5" x2="344.35" y2="217.0" stroke="#222" stroke-width="0.6"/>
<text transform="translate(345.80,217.8) rotate(-90)" font-size="4.0" text-anchor="end" fill="#111" textLength="6.4" lengthAdjust="spacingAndGlyphs">C.A</text>
<line x1="349.05" y1="215.5" x2="349.05" y2="217.0" stroke="#222" stroke-width="0.6"/>
<text transform="translate(350.50,217.8) rotate(-90)" font-size="4.0" text-anchor="end" fill="#111" textLength="6.4" lengthAdjust="spacingAndGlyphs">C.C</text>
<line x1="353.75" y1="215.5" x2="353.75" y2="217.0" stroke="#222" stroke-width="0.6"/>
<text transform="translate(355.20,217.8) rotate(-90)" font-size="4.0" text-anchor="end" fill="#111" textLength="6.4" lengthAdjust="spacingAndGlyphs">C.G</text>
<line x1="358.45" y1="215.5" x2="358.45" y2="217.0" stroke="#222" stroke-width="0.6"/>
<text transform="translate(359.90,217.8) rotate(-90)" font-size="4.0" text-anchor="end" fill="#111" textLength="6.4" lengthAdjust="spacingAndGlyphs">C.T</text>
<line x1="363.15" y1="215.5" x2="363.15" y2="217.0" stroke="#222" stroke-width="0.6"/>
<text transform="translate(364.60,217.8) rotate(-90)" font-size="4.0" text-anchor="end" fill="#111" textLength="6.4" lengthAdjust="spacingAndGlyphs">G.A</text>
<line x1="367.85" y1="215.5" x2="367.85" y2="217.0" stroke="#222" stroke-width="0.6"/>
<text transform="translate(369.30,217.8) rotate(-90)" font-size="4.0" text-anchor="end" fill="#111" textLength="6.4" lengthAdjust="spacingAndGlyphs">G.C</text>
<line x1="372.55" y1="215.5" x2="372.55" y2="217.0" stroke="#222" stroke-width="0.6"/>
<text transform="translate(374.00,217.8) rotate(-90)" font-size="4.0" text-anchor="end" fill="#111" textLength="6.4" lengthAdjust="spacingAndGlyphs">G.G</text>
<line x1="377.25" y1="215.5" x2="377.25" y2="217.0" stroke="#222" stroke-width="0.6"/>
<text transform="translate(378.70,217.8) rotate(-90)" font-size="4.0" text-anchor="end" fill="#111" textLength="6.4" lengthAdjust="spacingAndGlyphs">G.T</text>
<line x1="381.95" y1="215.5" x2="381.95" y2="217.0" stroke="#222" stroke-width="0.6"/>
<text transform="translate(383.40,217.8) rotate(-90)" font-size="4.0" text-anchor="end" fill="#111" textLength="6.4" lengthAdjust="spacingAndGlyphs">T.A</text>
<line x1="386.65" y1="215.5" x2="386.65" y2="217.0" stroke="#222" stroke-width="0.6"/>
<text transform="translate(388.10,217.8) rotate(-90)" font-size="4.0" text-anchor="end" fill="#111" textLength="6.4" lengthAdjust="spacingAndGlyphs">T.C</text>
<line x1="391.35" y1="215.5" x2="391.35" y2="217.0" stroke="#222" stroke-width="0.6"/>
<text transform="translate(392.80,217.8) rotate(-90)" font-size="4.0" text-anchor="end" fill="#111" textLength="6.4" lengthAdjust="spacingAndGlyphs">T.G</text>
<line x1="396.05" y1="215.5" x2="396.05" y2="217.0" stroke="#222" stroke-width="0.6"/>
<text transform="translate(397.50,217.8) rotate(-90)" font-size="4.0" text-anchor="end" fill="#111" textLength="6.4" lengthAdjust="spacingAndGlyphs">T.T</text>
<line x1="406.75" y1="215.5" x2="406.75" y2="217.0" stroke="#222" stroke-width="0.6"/>
<text transform="translate(408.20,217.8) rotate(-90)" font-size="4.0" text-anchor="end" fill="#111" textLength="6.4" lengthAdjust="spacingAndGlyphs">A.A</text>
<line x1="411.45" y1="215.5" x2="411.45" y2="217.0" stroke="#222" stroke-width="0.6"/>
<text transform="translate(412.90,217.8) rotate(-90)" font-size="4.0" text-anchor="end" fill="#111" textLength="6.4" lengthAdjust="spacingAndGlyphs">A.C</text>
<line x1="416.15" y1="215.5" x2="416.15" y2="217.0" stroke="#222" stroke-width="0.6"/>
<text transform="translate(417.60,217.8) rotate(-90)" font-size="4.0" text-anchor="end" fill="#111" textLength="6.4" lengthAdjust="spacingAndGlyphs">A.G</text>
<line x1="420.85" y1="215.5" x2="420.85" y2="217.0" stroke="#222" stroke-width="0.6"/>
<text transform="translate(422.30,217.8) rotate(-90)" font-size="4.0" text-anchor="end" fill="#111" textLength="6.4" lengthAdjust="spacingAndGlyphs">A.T</text>
<line x1="425.55" y1="215.5" x2="425.55" y2="217.0" stroke="#222" stroke-width="0.6"/>
<text transform="translate(427.00,217.8) rotate(-90)" font-size="4.0" text-anchor="end" fill="#111" textLength="6.4" lengthAdjust="spacingAndGlyphs">C.A</text>
<line x1="430.25" y1="215.5" x2="430.25" y2="217.0" stroke="#222" stroke-width="0.6"/>
<text transform="translate(431.70,217.8) rotate(-90)" font-size="4.0" text-anchor="end" fill="#111" textLength="6.4" lengthAdjust="spacingAndGlyphs">C.C</text>
<line x1="434.95" y1="215.5" x2="434.95" y2="217.0" stroke="#222" stroke-width="0.6"/>
<text transform="translate(436.40,217.8) rotate(-90)" font-size="4.0" text-anchor="end" fill="#111" textLength="6.4" lengthAdjust="spacingAndGlyphs">C.G</text>
<line x1="439.65" y1="215.5" x2="439.65" y2="217.0" stroke="#222" stroke-width="0.6"/>
<text transform="translate(441.10,217.8) rotate(-90)" font-size="4.0" text-anchor="end" fill="#111" textLength="6.4" lengthAdjust="spacingAndGlyphs">C.T</text>
<line x1="444.35" y1="215.5" x2="444.35" y2="217.0" stroke="#222" stroke-width="0.6"/>
<text transform="translate(445.80,217.8) rotate(-90)" font-size="4.0" text-anchor="end" fill="#111" textLength="6.4" lengthAdjust="spacingAndGlyphs">G.A</text>
<line x1="449.05" y1="215.5" x2="449.05" y2="217.0" stroke="#222" stroke-width="0.6"/>
<text transform="translate(450.50,217.8) rotate(-90)" font-size="4.0" text-anchor="end" fill="#111" textLength="6.4" lengthAdjust="spacingAndGlyphs">G.C</text>
<line x1="453.75" y1="215.5" x2="453.75" y2="217.0" stroke="#222" stroke-width="0.6"/>
<text transform="translate(455.20,217.8) rotate(-90)" font-size="4.0" text-anchor="end" fill="#111" textLength="6.4" lengthAdjust="spacingAndGlyphs">G.G</text>
<line x1="458.45" y1="215.5" x2="458.45" y2="217.0" stroke="#222" stroke-width="0.6"/>
<text transform="translate(459.90,217.8) rotate(-90)" font-size="4.0" text-anchor="end" fill="#111" textLength="6.4" lengthAdjust="spacingAndGlyphs">G.T</text>
<line x1="463.15" y1="215.5" x2="463.15" y2="217.0" stroke="#222" stroke-width="0.6"/>
<text transform="translate(464.60,217.8) rotate(-90)" font-size="4.0" text-anchor="end" fill="#111" textLength="6.4" lengthAdjust="spacingAndGlyphs">T.A</text>
<line x1="467.85" y1="215.5" x2="467.85" y2="217.0" stroke="#222" stroke-width="0.6"/>
<text transform="translate(469.30,217.8) rotate(-90)" font-size="4.0" text-anchor="end" fill="#111" textLength="6.4" lengthAdjust="spacingAndGlyphs">T.C</text>
<line x1="472.55" y1="215.5" x2="472.55" y2="217.0" stroke="#222" stroke-width="0.6"/>
<text transform="translate(474.00,217.8) rotate(-90)" font-size="4.0" text-anchor="end" fill="#111" textLength="6.4" lengthAdjust="spacingAndGlyphs">T.G</text>
<line x1="477.25" y1="215.5" x2="477.25" y2="217.0" stroke="#222" stroke-width="0.6"/>
<text transform="translate(478.70,217.8) rotate(-90)" font-size="4.0" text-anchor="end" fill="#111" textLength="6.4" lengthAdjust="spacingAndGlyphs">T.T</text>
<line x1="487.95" y1="215.5" x2="487.95" y2="217.0" stroke="#222" stroke-width="0.6"/>
<text transform="translate(489.40,217.8) rotate(-90)" font-size="4.0" text-anchor="end" fill="#111" textLength="6.4" lengthAdjust="spacingAndGlyphs">A.A</text>
<line x1="492.65" y1="215.5" x2="492.65" y2="217.0" stroke="#222" stroke-width="0.6"/>
<text transform="translate(494.10,217.8) rotate(-90)" font-size="4.0" text-anchor="end" fill="#111" textLength="6.4" lengthAdjust="spacingAndGlyphs">A.C</text>
<line x1="497.35" y1="215.5" x2="497.35" y2="217.0" stroke="#222" stroke-width="0.6"/>
<text transform="translate(498.80,217.8) rotate(-90)" font-size="4.0" text-anchor="end" fill="#111" textLength="6.4" lengthAdjust="spacingAndGlyphs">A.G</text>
<line x1="502.05" y1="215.5" x2="502.05" y2="217.0" stroke="#222" stroke-width="0.6"/>
<text transform="translate(503.50,217.8) rotate(-90)" font-size="4.0" text-anchor="end" fill="#111" textLength="6.4" lengthAdjust="spacingAndGlyphs">A.T</text>
<line x1="506.75" y1="215.5" x2="506.75" y2="217.0" stroke="#222" stroke-width="0.6"/>
<text transform="translate(508.20,217.8) rotate(-90)" font-size="4.0" text-anchor="end" fill="#111" textLength="6.4" lengthAdjust="spacingAndGlyphs">C.A</text>
<line x1="511.45" y1="215.5" x2="511.45" y2="217.0" stroke="#222" stroke-width="0.6"/>
<text transform="translate(512.90,217.8) rotate(-90)" font-size="4.0" text-anchor="end" fill="#111" textLength="6.4" lengthAdjust="spacingAndGlyphs">C.C</text>
<line x1="516.15" y1="215.5" x2="516.15" y2="217.0" stroke="#222" stroke-width="0.6"/>
<text transform="translate(517.60,217.8) rotate(-90)" font-size="4.0" text-anchor="end" fill="#111" textLength="6.4" lengthAdjust="spacingAndGlyphs">C.G</text>
<line x1="520.85" y1="215.5" x2="520.85" y2="217.0" stroke="#222" stroke-width="0.6"/>
<text transform="translate(522.30,217.8) rotate(-90)" font-size="4.0" text-anchor="end" fill="#111" textLength="6.4" lengthAdjust="spacingAndGlyphs">C.T</text>
<line x1="525.55" y1="215.5" x2="525.55" y2="217.0" stroke="#222" stroke-width="0.6"/>
<text transform="translate(527.00,217.8) rotate(-90)" font-size="4.0" text-anchor="end" fill="#111" textLength="6.4" lengthAdjust="spacingAndGlyphs">G.A</text>
<line x1="530.25" y1="215.5" x2="530.25" y2="217.0" stroke="#222" stroke-width="0.6"/>
<text transform="translate(531.70,217.8) rotate(-90)" font-size="4.0" text-anchor="end" fill="#111" textLength="6.4" lengthAdjust="spacingAndGlyphs">G.C</text>
<line x1="534.95" y1="215.5" x2="534.95" y2="217.0" stroke="#222" stroke-width="0.6"/>
<text transform="translate(536.40,217.8) rotate(-90)" font-size="4.0" text-anchor="end" fill="#111" textLength="6.4" lengthAdjust="spacingAndGlyphs">G.G</text>
<line x1="539.65" y1="215.5" x2="539.65" y2="217.0" stroke="#222" stroke-width="0.6"/>
<text transform="translate(541.10,217.8) rotate(-90)" font-size="4.0" text-anchor="end" fill="#111" textLength="6.4" lengthAdjust="spacingAndGlyphs">G.T</text>
<line x1="544.35" y1="215.5" x2="544.35" y2="217.0" stroke="#222" stroke-width="0.6"/>
<text transform="translate(545.80,217.8) rotate(-90)" font-size="4.0" text-anchor="end" fill="#111" textLength="6.4" lengthAdjust="spacingAndGlyphs">T.A</text>
<line x1="549.05" y1="215.5" x2="549.05" y2="217.0" stroke="#222" stroke-width="0.6"/>
<text transform="translate(550.50,217.8) rotate(-90)" font-size="4.0" text-anchor="end" fill="#111" textLength="6.4" lengthAdjust="spacingAndGlyphs">T.C</text>
<line x1="553.75" y1="215.5" x2="553.75" y2="217.0" stroke="#222" stroke-width="0.6"/>
<text transform="translate(555.20,217.8) rotate(-90)" font-size="4.0" text-anchor="end" fill="#111" textLength="6.4" lengthAdjust="spacingAndGlyphs">T.G</text>
<line x1="558.45" y1="215.5" x2="558.45" y2="217.0" stroke="#222" stroke-width="0.6"/>
<text transform="translate(559.90,217.8) rotate(-90)" font-size="4.0" text-anchor="end" fill="#111" textLength="6.4" lengthAdjust="spacingAndGlyphs">T.T</text>
<line x1="569.55" y1="215.5" x2="569.55" y2="217.0" stroke="#222" stroke-width="0.6"/>
<text transform="translate(571.00,217.8) rotate(-90)" font-size="4.0" text-anchor="end" fill="#111" textLength="6.4" lengthAdjust="spacingAndGlyphs">A.A</text>
<line x1="574.25" y1="215.5" x2="574.25" y2="217.0" stroke="#222" stroke-width="0.6"/>
<text transform="translate(575.70,217.8) rotate(-90)" font-size="4.0" text-anchor="end" fill="#111" textLength="6.4" lengthAdjust="spacingAndGlyphs">A.C</text>
<line x1="578.95" y1="215.5" x2="578.95" y2="217.0" stroke="#222" stroke-width="0.6"/>
<text transform="translate(580.40,217.8) rotate(-90)" font-size="4.0" text-anchor="end" fill="#111" textLength="6.4" lengthAdjust="spacingAndGlyphs">A.G</text>
<line x1="583.65" y1="215.5" x2="583.65" y2="217.0" stroke="#222" stroke-width="0.6"/>
<text transform="translate(585.10,217.8) rotate(-90)" font-size="4.0" text-anchor="end" fill="#111" textLength="6.4" lengthAdjust="spacingAndGlyphs">A.T</text>
<line x1="588.35" y1="215.5" x2="588.35" y2="217.0" stroke="#222" stroke-width="0.6"/>
<text transform="translate(589.80,217.8) rotate(-90)" font-size="4.0" text-anchor="end" fill="#111" textLength="6.4" lengthAdjust="spacingAndGlyphs">C.A</text>
<line x1="593.05" y1="215.5" x2="593.05" y2="217.0" stroke="#222" stroke-width="0.6"/>
<text transform="translate(594.50,217.8) rotate(-90)" font-size="4.0" text-anchor="end" fill="#111" textLength="6.4" lengthAdjust="spacingAndGlyphs">C.C</text>
<line x1="597.75" y1="215.5" x2="597.75" y2="217.0" stroke="#222" stroke-width="0.6"/>
<text transform="translate(599.20,217.8) rotate(-90)" font-size="4.0" text-anchor="end" fill="#111" textLength="6.4" lengthAdjust="spacingAndGlyphs">C.G</text>
<line x1="602.45" y1="215.5" x2="602.45" y2="217.0" stroke="#222" stroke-width="0.6"/>
<text transform="translate(603.90,217.8) rotate(-90)" font-size="4.0" text-anchor="end" fill="#111" textLength="6.4" lengthAdjust="spacingAndGlyphs">C.T</text>
<line x1="607.15" y1="215.5" x2="607.15" y2="217.0" stroke="#222" stroke-width="0.6"/>
<text transform="translate(608.60,217.8) rotate(-90)" font-size="4.0" text-anchor="end" fill="#111" textLength="6.4" lengthAdjust="spacingAndGlyphs">G.A</text>
<line x1="611.85" y1="215.5" x2="611.85" y2="217.0" stroke="#222" stroke-width="0.6"/>
<text transform="translate(613.30,217.8) rotate(-90)" font-size="4.0" text-anchor="end" fill="#111" textLength="6.4" lengthAdjust="spacingAndGlyphs">G.C</text>
<line x1="616.55" y1="215.5" x2="616.55" y2="217.0" stroke="#222" stroke-width="0.6"/>
<text transform="translate(618.00,217.8) rotate(-90)" font-size="4.0" text-anchor="end" fill="#111" textLength="6.4" lengthAdjust="spacingAndGlyphs">G.G</text>
<line x1="621.25" y1="215.5" x2="621.25" y2="217.0" stroke="#222" stroke-width="0.6"/>
<text transform="translate(622.70,217.8) rotate(-90)" font-size="4.0" text-anchor="end" fill="#111" textLength="6.4" lengthAdjust="spacingAndGlyphs">G.T</text>
<line x1="625.95" y1="215.5" x2="625.95" y2="217.0" stroke="#222" stroke-width="0.6"/>
<text transform="translate(627.40,217.8) rotate(-90)" font-size="4.0" text-anchor="end" fill="#111" textLength="6.4" lengthAdjust="spacingAndGlyphs">T.A</text>
<line x1="630.65" y1="215.5" x2="630.65" y2="217.0" stroke="#222" stroke-width="0.6"/>
<text transform="translate(632.10,217.8) rotate(-90)" font-size="4.0" text-anchor="end" fill="#111" textLength="6.4" lengthAdjust="spacingAndGlyphs">T.C</text>
<line x1="635.35" y1="215.5" x2="635.35" y2="217.0" stroke="#222" stroke-width="0.6"/>
<text transform="translate(636.80,217.8) rotate(-90)" font-size="4.0" text-anchor="end" fill="#111" textLength="6.4" lengthAdjust="spacingAndGlyphs">T.G</text>
<line x1="640.05" y1="215.5" x2="640.05" y2="217.0" stroke="#222" stroke-width="0.6"/>
<text transform="translate(641.50,217.8) rotate(-90)" font-size="4.0" text-anchor="end" fill="#111" textLength="6.4" lengthAdjust="spacingAndGlyphs">T.T</text>
<text x="386.8" y="233.5" font-size="8.6" font-weight="bold" fill="#111" textLength="29.4" lengthAdjust="spacingAndGlyphs">Motifs</text>
<text transform="translate(139.3,114) rotate(-90)" font-size="8.8" font-weight="bold" text-anchor="middle" fill="#111">Contributions</text>
<path d="M125.0,1.5 C126.3,0.5 127.8,0.0 129.3,0.1 C131.2,0.3 132.1,1.6 132.1,3.8 L132.1,11.7 M132.1,5.0 C128.3,5.0 124.8,5.8 124.8,8.5 C124.8,10.3 126.0,11.1 127.6,11.1 C129.6,11.1 131.3,10.0 132.1,8.6" fill="none" stroke="#000" stroke-width="1.85"/>
<rect x="18.4" y="295.80" width="76.40" height="6.4" fill="#1f4f8e"/>
<text x="98.2" y="301.20" font-size="5.9" fill="#000" stroke="#000" stroke-width="0.08">35%</text>
<rect x="58.3" y="303.38" width="0.85" height="6.4" fill="#8fd97c"/>
<rect x="59.5" y="303.38" width="35.30" height="6.4" fill="#1f4f8e"/>
<text x="98.2" y="308.77" font-size="5.9" fill="#000" stroke="#000" stroke-width="0.08">10%</text>
<rect x="68.6" y="310.95" width="0.85" height="6.4" fill="#8fd97c"/>
<rect x="69.8" y="310.95" width="25.00" height="6.4" fill="#1f4f8e"/>
<text x="98.2" y="316.35" font-size="5.9" fill="#000" stroke="#000" stroke-width="0.08">7%</text>
<rect x="77.3" y="318.53" width="17.50" height="6.4" fill="#1f4f8e"/>
<text x="98.2" y="323.93" font-size="5.9" fill="#000" stroke="#000" stroke-width="0.08">5%</text>
<rect x="22.4" y="326.10" width="0.75" height="6.4" fill="#8fd97c"/>
<rect x="23.5" y="326.10" width="71.30" height="6.4" fill="#1f4f8e"/>
<text x="98.2" y="331.50" font-size="5.9" fill="#000" stroke="#000" stroke-width="0.08">19%</text>
<rect x="82.1" y="333.68" width="0.85" height="6.4" fill="#8fd97c"/>
<rect x="83.3" y="333.68" width="11.50" height="6.4" fill="#1f4f8e"/>
<text x="98.2" y="339.07" font-size="5.9" fill="#000" stroke="#000" stroke-width="0.08">3%</text>
<rect x="77.3" y="341.25" width="2.35" height="6.4" fill="#5cc646"/>
<rect x="80.0" y="341.25" width="14.80" height="6.4" fill="#1f4f8e"/>
<text x="98.2" y="346.65" font-size="5.9" fill="#000" stroke="#000" stroke-width="0.08">4%</text>
<rect x="76.1" y="348.82" width="18.70" height="6.4" fill="#1f4f8e"/>
<text x="98.2" y="354.22" font-size="5.9" fill="#000" stroke="#000" stroke-width="0.08">5%</text>
<rect x="58.3" y="356.40" width="5.15" height="6.4" fill="#5cc646"/>
<rect x="63.8" y="356.40" width="31.00" height="6.4" fill="#1f4f8e"/>
<text x="98.2" y="361.80" font-size="5.9" fill="#000" stroke="#000" stroke-width="0.08">7%</text>
<rect x="82.4" y="363.98" width="0.60" height="6.4" fill="#8fd97c"/>
<rect x="83.3" y="363.98" width="11.50" height="6.4" fill="#1f4f8e"/>
<text x="98.2" y="369.38" font-size="5.9" fill="#000" stroke="#000" stroke-width="0.08">3%</text>
<rect x="74.0" y="371.55" width="2.35" height="6.4" fill="#5cc646"/>
<rect x="76.7" y="371.55" width="18.10" height="6.4" fill="#1f4f8e"/>
<text x="98.2" y="376.95" font-size="5.9" fill="#000" stroke="#000" stroke-width="0.08">5%</text>
<rect x="78.3" y="379.12" width="0.60" height="6.4" fill="#8fd97c"/>
<rect x="79.1" y="379.12" width="15.70" height="6.4" fill="#1f4f8e"/>
<text x="98.2" y="384.52" font-size="5.9" fill="#000" stroke="#000" stroke-width="0.08">4%</text>
<rect x="69.8" y="386.70" width="25.00" height="6.4" fill="#1f4f8e"/>
<text x="98.2" y="392.10" font-size="5.9" fill="#000" stroke="#000" stroke-width="0.08">7%</text>
<rect x="76.5" y="394.28" width="0.60" height="6.4" fill="#8fd97c"/>
<rect x="77.0" y="394.28" width="17.80" height="6.4" fill="#1f4f8e"/>
<text x="98.2" y="399.68" font-size="5.9" fill="#000" stroke="#000" stroke-width="0.08">5%</text>
<rect x="82.4" y="401.85" width="0.60" height="6.4" fill="#8fd97c"/>
<rect x="83.3" y="401.85" width="11.50" height="6.4" fill="#1f4f8e"/>
<text x="98.2" y="407.25" font-size="5.9" fill="#000" stroke="#000" stroke-width="0.08">3%</text>
<rect x="73.1" y="409.43" width="0.60" height="6.4" fill="#8fd97c"/>
<rect x="74.0" y="409.43" width="20.80" height="6.4" fill="#1f4f8e"/>
<text x="98.2" y="414.82" font-size="5.9" fill="#000" stroke="#000" stroke-width="0.08">5%</text>
<rect x="82.4" y="417.00" width="0.60" height="6.4" fill="#8fd97c"/>
<rect x="83.3" y="417.00" width="11.50" height="6.4" fill="#1f4f8e"/>
<text x="98.2" y="422.40" font-size="5.9" fill="#000" stroke="#000" stroke-width="0.08">3%</text>
<rect x="85.5" y="424.58" width="0.60" height="6.4" fill="#8fd97c"/>
<rect x="86.3" y="424.58" width="8.50" height="6.4" fill="#1f4f8e"/>
<text x="98.2" y="429.98" font-size="5.9" fill="#000" stroke="#000" stroke-width="0.08">2%</text>
<rect x="83.1" y="432.15" width="2.85" height="6.4" fill="#5cc646"/>
<rect x="86.3" y="432.15" width="8.50" height="6.4" fill="#1f4f8e"/>
<text x="98.2" y="437.55" font-size="5.9" fill="#000" stroke="#000" stroke-width="0.08">2%</text>
<rect x="83.1" y="439.73" width="3.75" height="6.4" fill="#5cc646"/>
<rect x="87.2" y="439.73" width="7.60" height="6.4" fill="#1f4f8e"/>
<text x="98.2" y="445.12" font-size="5.9" fill="#000" stroke="#000" stroke-width="0.08">2%</text>
<rect x="87.9" y="447.30" width="0.60" height="6.4" fill="#8fd97c"/>
<rect x="88.7" y="447.30" width="6.10" height="6.4" fill="#1f4f8e"/>
<text x="98.2" y="452.70" font-size="5.9" fill="#000" stroke="#000" stroke-width="0.08">2%</text>
<rect x="82.3" y="454.88" width="12.50" height="6.4" fill="#1f4f8e"/>
<text x="98.2" y="460.27" font-size="5.9" fill="#000" stroke="#000" stroke-width="0.08">4%</text>
<rect x="18.6" y="462.45" width="76.20" height="6.4" fill="#1f4f8e"/>
<text x="98.2" y="467.85" font-size="5.9" fill="#000" stroke="#000" stroke-width="0.08">24%</text>
<rect x="84.1" y="470.02" width="0.75" height="6.4" fill="#8fd97c"/>
<rect x="85.2" y="470.02" width="9.60" height="6.4" fill="#1f4f8e"/>
<text x="98.2" y="475.42" font-size="5.9" fill="#000" stroke="#000" stroke-width="0.08">3%</text>
<text x="28.0" y="300.20" font-size="4.3" fill="#f4f6fa">128</text>
<text x="29.0" y="330.50" font-size="4.3" fill="#f4f6fa">71</text>
<text x="29.0" y="466.85" font-size="4.3" fill="#f4f6fa">69</text>
<line x1="22.9" y1="477.6" x2="95.0" y2="477.6" stroke="#111" stroke-width="0.8"/>
<line x1="95.00" y1="477.6" x2="95.00" y2="480.6" stroke="#111" stroke-width="0.8"/>
<line x1="84.70" y1="477.6" x2="84.70" y2="480.6" stroke="#111" stroke-width="0.8"/>
<line x1="74.40" y1="477.6" x2="74.40" y2="480.6" stroke="#111" stroke-width="0.8"/>
<line x1="64.10" y1="477.6" x2="64.10" y2="480.6" stroke="#111" stroke-width="0.8"/>
<line x1="53.80" y1="477.6" x2="53.80" y2="480.6" stroke="#111" stroke-width="0.8"/>
<line x1="43.50" y1="477.6" x2="43.50" y2="480.6" stroke="#111" stroke-width="0.8"/>
<line x1="33.20" y1="477.6" x2="33.20" y2="480.6" stroke="#111" stroke-width="0.8"/>
<line x1="22.90" y1="477.6" x2="22.90" y2="480.6" stroke="#111" stroke-width="0.8"/>
<text x="22.9" y="489.9" font-size="5.8" text-anchor="middle" fill="#000">70</text>
<text x="43.5" y="489.9" font-size="5.8" text-anchor="middle" fill="#000">50</text>
<text x="64.1" y="489.9" font-size="5.8" text-anchor="middle" fill="#000">30</text>
<text x="84.7" y="489.9" font-size="5.8" text-anchor="middle" fill="#000">10</text>
<text x="59.5" y="496.3" font-size="6.1" text-anchor="middle" fill="#000"># mutations</text>
<rect x="51.3" y="264.3" width="4.4" height="3.4" fill="#5ad844" stroke="#000" stroke-width="0.8"/>
<rect x="51.3" y="270.6" width="4.4" height="3.4" fill="#1f4f8e" stroke="#000" stroke-width="0.8"/>
<text transform="translate(60.1,268.3) scale(0.95,1)" font-size="5.4" fill="#000" stroke="#000" stroke-width="0.12">Syn.</text>
<text transform="translate(60.1,274.5) scale(0.95,1)" font-size="5.4" fill="#000" stroke="#000" stroke-width="0.12">Non syn.</text>
<line x1="110.4" y1="247.2" x2="110.4" y2="290.0" stroke="#111" stroke-width="0.8"/>
<line x1="106.4" y1="290.0" x2="110.4" y2="290.0" stroke="#111" stroke-width="0.8"/>
<text x="102.8" y="292.0" font-size="5.5" text-anchor="end" fill="#000">0</text>
<line x1="106.4" y1="281.3" x2="110.4" y2="281.3" stroke="#111" stroke-width="0.8"/>
<text x="102.8" y="283.3" font-size="5.5" text-anchor="end" fill="#000">20</text>
<line x1="106.4" y1="272.6" x2="110.4" y2="272.6" stroke="#111" stroke-width="0.8"/>
<text x="102.8" y="274.6" font-size="5.5" text-anchor="end" fill="#000">40</text>
<line x1="106.4" y1="264.2" x2="110.4" y2="264.2" stroke="#111" stroke-width="0.8"/>
<text x="102.8" y="266.2" font-size="5.5" text-anchor="end" fill="#000">60</text>
<line x1="106.4" y1="255.5" x2="110.4" y2="255.5" stroke="#111" stroke-width="0.8"/>
<text x="102.8" y="257.5" font-size="5.5" text-anchor="end" fill="#000">80</text>
<line x1="106.4" y1="247.2" x2="110.4" y2="247.2" stroke="#111" stroke-width="0.8"/>
<text x="102.8" y="249.2" font-size="5.5" text-anchor="end" fill="#000">100</text>
<text transform="translate(91.6,268.8) rotate(-90)" font-size="6.2" text-anchor="middle" fill="#000" stroke="#000" stroke-width="0.1"># mutations/Mb</text>
<rect x="112.70" y="274.00" width="1.10" height="5.10" fill="#78c85a"/>
<rect x="112.70" y="279.10" width="1.10" height="10.50" fill="#466ea8"/>
<rect x="113.80" y="275.90" width="1.10" height="9.70" fill="#78c85a"/>
<rect x="113.80" y="285.60" width="1.10" height="4.00" fill="#466ea8"/>
<rect x="114.90" y="275.90" width="1.10" height="4.80" fill="#78c85a"/>
<rect x="114.90" y="280.70" width="1.10" height="8.90" fill="#466ea8"/>
<rect x="116.00" y="276.10" width="1.00" height="5.20" fill="#78c85a"/>
<rect x="116.00" y="281.30" width="1.00" height="8.30" fill="#466ea8"/>
<rect x="117.00" y="279.70" width="1.10" height="3.80" fill="#78c85a"/>
<rect x="117.00" y="283.50" width="1.10" height="6.10" fill="#466ea8"/>
<rect x="118.10" y="284.50" width="1.10" height="1.50" fill="#78c85a"/>
<rect x="118.10" y="286.00" width="1.10" height="3.60" fill="#466ea8"/>
<rect x="119.20" y="284.30" width="1.10" height="1.90" fill="#78c85a"/>
<rect x="119.20" y="286.20" width="1.10" height="3.40" fill="#466ea8"/>
<rect x="120.30" y="286.70" width="1.60" height="1.10" fill="#78c85a"/>
<rect x="120.30" y="287.80" width="1.60" height="1.80" fill="#466ea8"/>
<rect x="121.90" y="285.00" width="1.10" height="2.20" fill="#78c85a"/>
<rect x="121.90" y="287.20" width="1.10" height="2.40" fill="#466ea8"/>
<rect x="123.00" y="242.10" width="1.10" height="47.50" fill="#466ea8"/>
<rect x="124.10" y="288.50" width="1.60" height="0.50" fill="#78c85a"/>
<rect x="124.10" y="289.00" width="1.60" height="0.60" fill="#466ea8"/>
<rect x="125.70" y="281.30" width="1.10" height="3.50" fill="#78c85a"/>
<rect x="125.70" y="284.80" width="1.10" height="4.80" fill="#466ea8"/>
<rect x="126.80" y="285.60" width="1.10" height="1.40" fill="#78c85a"/>
<rect x="126.80" y="287.00" width="1.10" height="2.60" fill="#466ea8"/>
<rect x="127.90" y="282.40" width="1.00" height="3.20" fill="#78c85a"/>
<rect x="127.90" y="285.60" width="1.00" height="4.00" fill="#466ea8"/>
<rect x="128.90" y="286.20" width="1.10" height="1.30" fill="#78c85a"/>
<rect x="128.90" y="287.50" width="1.10" height="2.10" fill="#466ea8"/>
<rect x="130.00" y="287.00" width="1.50" height="1.30" fill="#78c85a"/>
<rect x="130.00" y="288.30" width="1.50" height="1.30" fill="#466ea8"/>
<rect x="131.50" y="287.80" width="1.50" height="0.80" fill="#78c85a"/>
<rect x="131.50" y="288.60" width="1.50" height="1.00" fill="#466ea8"/>
<rect x="133.00" y="287.30" width="1.90" height="1.10" fill="#78c85a"/>
<rect x="133.00" y="288.40" width="1.90" height="1.20" fill="#466ea8"/>
<rect x="134.90" y="276.10" width="1.70" height="4.90" fill="#78c85a"/>
<rect x="134.90" y="281.00" width="1.70" height="8.60" fill="#466ea8"/>
<rect x="136.60" y="288.10" width="1.40" height="0.80" fill="#78c85a"/>
<rect x="136.60" y="288.90" width="1.40" height="0.70" fill="#466ea8"/>
<rect x="138.00" y="285.10" width="1.00" height="2.40" fill="#78c85a"/>
<rect x="138.00" y="287.50" width="1.00" height="2.10" fill="#466ea8"/>
<rect x="139.00" y="284.90" width="2.20" height="2.30" fill="#78c85a"/>
<rect x="139.00" y="287.20" width="2.20" height="2.40" fill="#466ea8"/>
<rect x="141.20" y="286.20" width="1.24" height="1.60" fill="#78c85a"/>
<rect x="141.20" y="287.80" width="1.24" height="1.80" fill="#466ea8"/>
<rect x="142.44" y="286.61" width="1.24" height="1.40" fill="#78c85a"/>
<rect x="142.44" y="288.01" width="1.24" height="1.59" fill="#466ea8"/>
<rect x="143.68" y="287.03" width="1.24" height="1.20" fill="#78c85a"/>
<rect x="143.68" y="288.23" width="1.24" height="1.37" fill="#466ea8"/>
<rect x="144.92" y="287.44" width="1.24" height="1.00" fill="#78c85a"/>
<rect x="144.92" y="288.44" width="1.24" height="1.16" fill="#466ea8"/>
<rect x="146.16" y="287.86" width="1.24" height="0.80" fill="#78c85a"/>
<rect x="146.16" y="288.66" width="1.24" height="0.94" fill="#466ea8"/>
<rect x="147.40" y="288.27" width="1.24" height="0.60" fill="#78c85a"/>
<rect x="147.40" y="288.87" width="1.24" height="0.73" fill="#466ea8"/>
<rect x="148.64" y="288.69" width="1.24" height="0.40" fill="#78c85a"/>
<rect x="148.64" y="289.09" width="1.24" height="0.51" fill="#466ea8"/>
<rect x="149.88" y="289.10" width="1.24" height="0.20" fill="#78c85a"/>
<rect x="149.88" y="289.30" width="1.24" height="0.30" fill="#466ea8"/>
<rect x="152.20" y="289.40" width="1.70" height="0.10" fill="#78c85a"/>
<rect x="152.20" y="289.50" width="1.70" height="0.10" fill="#466ea8"/>
<rect x="153.90" y="262.00" width="1.20" height="9.00" fill="#78c85a"/>
<rect x="153.90" y="271.00" width="1.20" height="18.60" fill="#466ea8"/>
<rect x="155.00" y="287.20" width="2.50" height="0.90" fill="#78c85a"/>
<rect x="155.00" y="288.10" width="2.50" height="1.50" fill="#466ea8"/>
<rect x="157.50" y="288.80" width="1.20" height="0.40" fill="#78c85a"/>
<rect x="157.50" y="289.20" width="1.20" height="0.40" fill="#466ea8"/>
<rect x="158.70" y="285.50" width="0.60" height="1.50" fill="#78c85a"/>
<rect x="158.70" y="287.00" width="0.60" height="2.60" fill="#466ea8"/>
<rect x="159.30" y="282.60" width="2.20" height="3.00" fill="#78c85a"/>
<rect x="159.30" y="285.60" width="2.20" height="4.00" fill="#466ea8"/>
<rect x="161.50" y="288.00" width="4.30" height="1.00" fill="#78c85a"/>
<rect x="161.50" y="289.00" width="4.30" height="0.60" fill="#466ea8"/>
<rect x="165.80" y="276.70" width="1.30" height="5.10" fill="#78c85a"/>
<rect x="165.80" y="281.80" width="1.30" height="7.80" fill="#466ea8"/>
<rect x="167.10" y="283.50" width="1.40" height="2.10" fill="#78c85a"/>
<rect x="167.10" y="285.60" width="1.40" height="4.00" fill="#466ea8"/>
<rect x="168.50" y="287.00" width="0.40" height="1.00" fill="#78c85a"/>
<rect x="168.50" y="288.00" width="0.40" height="1.60" fill="#466ea8"/>
<rect x="168.90" y="275.30" width="1.30" height="4.90" fill="#78c85a"/>
<rect x="168.90" y="280.20" width="1.30" height="9.40" fill="#466ea8"/>
<rect x="170.20" y="288.00" width="1.60" height="1.00" fill="#78c85a"/>
<rect x="170.20" y="289.00" width="1.60" height="0.60" fill="#466ea8"/>
<rect x="171.80" y="285.10" width="1.10" height="1.60" fill="#78c85a"/>
<rect x="171.80" y="286.70" width="1.10" height="2.90" fill="#466ea8"/>
<rect x="172.90" y="288.50" width="1.60" height="0.50" fill="#78c85a"/>
<rect x="172.90" y="289.00" width="1.60" height="0.60" fill="#466ea8"/>
<rect x="174.50" y="287.20" width="3.20" height="1.00" fill="#78c85a"/>
<rect x="174.50" y="288.20" width="3.20" height="1.40" fill="#466ea8"/>
<rect x="177.70" y="288.50" width="3.30" height="0.50" fill="#78c85a"/>
<rect x="177.70" y="289.00" width="3.30" height="0.60" fill="#466ea8"/>
<rect x="181.00" y="278.90" width="1.60" height="4.00" fill="#78c85a"/>
<rect x="181.00" y="282.90" width="1.60" height="6.70" fill="#466ea8"/>
<rect x="182.60" y="284.50" width="1.10" height="2.00" fill="#78c85a"/>
<rect x="182.60" y="286.50" width="1.10" height="3.10" fill="#466ea8"/>
<rect x="183.70" y="285.99" width="1.24" height="2.04" fill="#78c85a"/>
<rect x="183.70" y="288.03" width="1.24" height="1.57" fill="#466ea8"/>
<rect x="184.94" y="286.21" width="1.24" height="1.88" fill="#78c85a"/>
<rect x="184.94" y="288.10" width="1.24" height="1.50" fill="#466ea8"/>
<rect x="186.18" y="286.43" width="1.24" height="1.73" fill="#78c85a"/>
<rect x="186.18" y="288.17" width="1.24" height="1.43" fill="#466ea8"/>
<rect x="187.42" y="286.65" width="1.24" height="1.58" fill="#78c85a"/>
<rect x="187.42" y="288.24" width="1.24" height="1.36" fill="#466ea8"/>
<rect x="188.66" y="286.87" width="1.24" height="1.43" fill="#78c85a"/>
<rect x="188.66" y="288.30" width="1.24" height="1.30" fill="#466ea8"/>
<rect x="189.90" y="287.09" width="1.24" height="1.28" fill="#78c85a"/>
<rect x="189.90" y="288.37" width="1.24" height="1.23" fill="#466ea8"/>
<rect x="191.14" y="287.32" width="1.24" height="1.13" fill="#78c85a"/>
<rect x="191.14" y="288.44" width="1.24" height="1.16" fill="#466ea8"/>
<rect x="192.38" y="287.52" width="1.24" height="0.99" fill="#78c85a"/>
<rect x="192.38" y="288.51" width="1.24" height="1.09" fill="#466ea8"/>
<rect x="193.62" y="287.63" width="1.24" height="0.96" fill="#78c85a"/>
<rect x="193.62" y="288.59" width="1.24" height="1.01" fill="#466ea8"/>
<rect x="194.86" y="287.75" width="1.24" height="0.93" fill="#78c85a"/>
<rect x="194.86" y="288.68" width="1.24" height="0.92" fill="#466ea8"/>
<rect x="196.10" y="287.86" width="1.24" height="0.90" fill="#78c85a"/>
<rect x="196.10" y="288.76" width="1.24" height="0.84" fill="#466ea8"/>
<rect x="197.34" y="287.98" width="1.24" height="0.86" fill="#78c85a"/>
<rect x="197.34" y="288.84" width="1.24" height="0.76" fill="#466ea8"/>
<rect x="198.58" y="288.09" width="1.24" height="0.83" fill="#78c85a"/>
<rect x="198.58" y="288.92" width="1.24" height="0.68" fill="#466ea8"/>
<rect x="199.82" y="288.21" width="1.24" height="0.80" fill="#78c85a"/>
<rect x="199.82" y="289.00" width="1.24" height="0.60" fill="#466ea8"/>
<rect x="201.06" y="288.40" width="1.24" height="0.69" fill="#78c85a"/>
<rect x="201.06" y="289.09" width="1.24" height="0.51" fill="#466ea8"/>
<rect x="202.30" y="288.59" width="1.24" height="0.59" fill="#78c85a"/>
<rect x="202.30" y="289.18" width="1.24" height="0.42" fill="#466ea8"/>
<rect x="203.54" y="288.78" width="1.24" height="0.48" fill="#78c85a"/>
<rect x="203.54" y="289.26" width="1.24" height="0.34" fill="#466ea8"/>
<rect x="204.78" y="288.97" width="1.24" height="0.38" fill="#78c85a"/>
<rect x="204.78" y="289.35" width="1.24" height="0.25" fill="#466ea8"/>
<rect x="206.02" y="289.17" width="1.24" height="0.27" fill="#78c85a"/>
<rect x="206.02" y="289.44" width="1.24" height="0.16" fill="#466ea8"/>
<rect x="207.26" y="289.28" width="0.24" height="0.21" fill="#78c85a"/>
<rect x="207.26" y="289.49" width="0.24" height="0.11" fill="#466ea8"/>
<rect x="210.10" y="285.70" width="1.60" height="1.20" fill="#78c85a"/>
<rect x="210.10" y="286.90" width="1.60" height="2.70" fill="#466ea8"/>
<rect x="211.90" y="242.10" width="1.20" height="10.50" fill="#78c85a"/>
<rect x="211.90" y="252.60" width="1.20" height="37.00" fill="#466ea8"/>
<rect x="213.10" y="255.30" width="0.80" height="11.40" fill="#78c85a"/>
<rect x="213.10" y="266.70" width="0.80" height="22.90" fill="#466ea8"/>
<rect x="213.90" y="282.40" width="1.30" height="2.10" fill="#78c85a"/>
<rect x="213.90" y="284.50" width="1.30" height="5.10" fill="#466ea8"/>
<rect x="215.20" y="280.70" width="1.20" height="2.80" fill="#78c85a"/>
<rect x="215.20" y="283.50" width="1.20" height="6.10" fill="#466ea8"/>
<rect x="216.40" y="283.50" width="1.50" height="2.10" fill="#78c85a"/>
<rect x="216.40" y="285.60" width="1.50" height="4.00" fill="#466ea8"/>
<rect x="217.90" y="271.50" width="1.00" height="6.50" fill="#78c85a"/>
<rect x="217.90" y="278.00" width="1.00" height="11.60" fill="#466ea8"/>
<rect x="218.90" y="275.30" width="1.10" height="5.40" fill="#78c85a"/>
<rect x="218.90" y="280.70" width="1.10" height="8.90" fill="#466ea8"/>
<rect x="220.00" y="284.50" width="1.60" height="1.70" fill="#78c85a"/>
<rect x="220.00" y="286.20" width="1.60" height="3.40" fill="#466ea8"/>
<rect x="221.60" y="286.20" width="3.30" height="1.00" fill="#78c85a"/>
<rect x="221.60" y="287.20" width="3.30" height="2.40" fill="#466ea8"/>
<rect x="224.90" y="274.80" width="1.10" height="5.90" fill="#78c85a"/>
<rect x="224.90" y="280.70" width="1.10" height="8.90" fill="#466ea8"/>
<rect x="226.00" y="283.50" width="2.70" height="2.10" fill="#78c85a"/>
<rect x="226.00" y="285.60" width="2.70" height="4.00" fill="#466ea8"/>
<rect x="228.70" y="282.90" width="1.10" height="2.70" fill="#78c85a"/>
<rect x="228.70" y="285.60" width="1.10" height="4.00" fill="#466ea8"/>
<rect x="229.80" y="287.00" width="0.50" height="1.00" fill="#78c85a"/>
<rect x="229.80" y="288.00" width="0.50" height="1.60" fill="#466ea8"/>
<rect x="230.30" y="284.50" width="3.20" height="2.70" fill="#78c85a"/>
<rect x="230.30" y="287.20" width="3.20" height="2.40" fill="#466ea8"/>
<rect x="233.50" y="278.60" width="1.10" height="5.40" fill="#78c85a"/>
<rect x="233.50" y="284.00" width="1.10" height="5.60" fill="#466ea8"/>
<rect x="234.60" y="285.60" width="2.20" height="1.60" fill="#78c85a"/>
<rect x="234.60" y="287.20" width="2.20" height="2.40" fill="#466ea8"/>
<rect x="236.80" y="284.00" width="1.10" height="2.20" fill="#78c85a"/>
<rect x="236.80" y="286.20" width="1.10" height="3.40" fill="#466ea8"/>
<rect x="237.90" y="287.20" width="3.20" height="1.00" fill="#78c85a"/>
<rect x="237.90" y="288.20" width="3.20" height="1.40" fill="#466ea8"/>
<rect x="241.10" y="279.10" width="1.60" height="4.40" fill="#78c85a"/>
<rect x="241.10" y="283.50" width="1.60" height="6.10" fill="#466ea8"/>
<rect x="242.70" y="285.60" width="1.10" height="1.40" fill="#78c85a"/>
<rect x="242.70" y="287.00" width="1.10" height="2.60" fill="#466ea8"/>
<rect x="243.80" y="281.80" width="1.10" height="2.70" fill="#78c85a"/>
<rect x="243.80" y="284.50" width="1.10" height="5.10" fill="#466ea8"/>
<rect x="244.90" y="287.80" width="1.60" height="0.70" fill="#78c85a"/>
<rect x="244.90" y="288.50" width="1.60" height="1.10" fill="#466ea8"/>
<rect x="246.50" y="285.00" width="1.70" height="1.70" fill="#78c85a"/>
<rect x="246.50" y="286.70" width="1.70" height="2.90" fill="#466ea8"/>
<rect x="248.20" y="280.70" width="1.80" height="3.80" fill="#78c85a"/>
<rect x="248.20" y="284.50" width="1.80" height="5.10" fill="#466ea8"/>
<rect x="250.00" y="278.60" width="1.00" height="4.90" fill="#78c85a"/>
<rect x="250.00" y="283.50" width="1.00" height="6.10" fill="#466ea8"/>
<rect x="251.00" y="269.20" width="1.00" height="7.80" fill="#78c85a"/>
<rect x="251.00" y="277.00" width="1.00" height="12.60" fill="#466ea8"/>
<rect x="252.00" y="285.60" width="1.70" height="1.60" fill="#78c85a"/>
<rect x="252.00" y="287.20" width="1.70" height="2.40" fill="#466ea8"/>
<rect x="253.70" y="279.10" width="1.30" height="3.90" fill="#78c85a"/>
<rect x="253.70" y="283.00" width="1.30" height="6.60" fill="#466ea8"/>
<rect x="255.00" y="287.20" width="2.80" height="0.60" fill="#78c85a"/>
<rect x="255.00" y="287.80" width="2.80" height="1.80" fill="#466ea8"/>
<rect x="257.80" y="284.00" width="1.10" height="1.60" fill="#78c85a"/>
<rect x="257.80" y="285.60" width="1.10" height="4.00" fill="#466ea8"/>
<rect x="258.90" y="287.50" width="1.80" height="1.00" fill="#78c85a"/>
<rect x="258.90" y="288.50" width="1.80" height="1.10" fill="#466ea8"/>
<rect x="260.70" y="276.70" width="1.40" height="5.10" fill="#78c85a"/>
<rect x="260.70" y="281.80" width="1.40" height="7.80" fill="#466ea8"/>
<rect x="262.10" y="285.60" width="2.40" height="1.60" fill="#78c85a"/>
<rect x="262.10" y="287.20" width="2.40" height="2.40" fill="#466ea8"/>
<rect x="264.50" y="288.60" width="8.10" height="0.40" fill="#78c85a"/>
<rect x="264.50" y="289.00" width="8.10" height="0.60" fill="#466ea8"/>
<rect x="272.60" y="281.10" width="1.40" height="2.90" fill="#78c85a"/>
<rect x="272.60" y="284.00" width="1.40" height="5.60" fill="#466ea8"/>
<rect x="274.00" y="287.00" width="0.80" height="1.00" fill="#78c85a"/>
<rect x="274.00" y="288.00" width="0.80" height="1.60" fill="#466ea8"/>
<rect x="274.80" y="284.00" width="1.60" height="2.20" fill="#78c85a"/>
<rect x="274.80" y="286.20" width="1.60" height="3.40" fill="#466ea8"/>
<rect x="276.40" y="287.00" width="1.10" height="1.00" fill="#78c85a"/>
<rect x="276.40" y="288.00" width="1.10" height="1.60" fill="#466ea8"/>
<rect x="277.50" y="282.90" width="1.60" height="2.70" fill="#78c85a"/>
<rect x="277.50" y="285.60" width="1.60" height="4.00" fill="#466ea8"/>
<rect x="279.10" y="287.00" width="1.10" height="1.00" fill="#78c85a"/>
<rect x="279.10" y="288.00" width="1.10" height="1.60" fill="#466ea8"/>
<rect x="280.20" y="272.10" width="1.60" height="6.80" fill="#78c85a"/>
<rect x="280.20" y="278.90" width="1.60" height="10.70" fill="#466ea8"/>
<rect x="281.80" y="286.00" width="1.10" height="1.50" fill="#78c85a"/>
<rect x="281.80" y="287.50" width="1.10" height="2.10" fill="#466ea8"/>
<rect x="282.90" y="276.70" width="1.10" height="4.60" fill="#78c85a"/>
<rect x="282.90" y="281.30" width="1.10" height="8.30" fill="#466ea8"/>
<rect x="284.00" y="285.60" width="2.70" height="1.60" fill="#78c85a"/>
<rect x="284.00" y="287.20" width="2.70" height="2.40" fill="#466ea8"/>
<rect x="286.70" y="282.40" width="2.10" height="2.10" fill="#78c85a"/>
<rect x="286.70" y="284.50" width="2.10" height="5.10" fill="#466ea8"/>
<rect x="288.80" y="286.70" width="3.30" height="1.10" fill="#78c85a"/>
<rect x="288.80" y="287.80" width="3.30" height="1.80" fill="#466ea8"/>
<rect x="292.10" y="280.00" width="1.10" height="4.00" fill="#78c85a"/>
<rect x="292.10" y="284.00" width="1.10" height="5.60" fill="#466ea8"/>
<rect x="293.20" y="287.20" width="1.70" height="0.80" fill="#78c85a"/>
<rect x="293.20" y="288.00" width="1.70" height="1.60" fill="#466ea8"/>
<rect x="294.90" y="288.50" width="2.10" height="0.50" fill="#78c85a"/>
<rect x="294.90" y="289.00" width="2.10" height="0.60" fill="#466ea8"/>
<rect x="297.00" y="285.60" width="0.80" height="1.90" fill="#78c85a"/>
<rect x="297.00" y="287.50" width="0.80" height="2.10" fill="#466ea8"/>
<rect x="297.80" y="275.90" width="1.40" height="5.40" fill="#78c85a"/>
<rect x="297.80" y="281.30" width="1.40" height="8.30" fill="#466ea8"/>
<rect x="299.20" y="287.00" width="0.80" height="1.00" fill="#78c85a"/>
<rect x="299.20" y="288.00" width="0.80" height="1.60" fill="#466ea8"/>
<rect x="300.00" y="282.90" width="1.00" height="2.70" fill="#78c85a"/>
<rect x="300.00" y="285.60" width="1.00" height="4.00" fill="#466ea8"/>
<rect x="301.00" y="287.00" width="0.70" height="1.00" fill="#78c85a"/>
<rect x="301.00" y="288.00" width="0.70" height="1.60" fill="#466ea8"/>
<rect x="301.70" y="275.90" width="1.80" height="5.20" fill="#78c85a"/>
<rect x="301.70" y="281.10" width="1.80" height="8.50" fill="#466ea8"/>
<rect x="303.50" y="282.40" width="1.10" height="3.20" fill="#78c85a"/>
<rect x="303.50" y="285.60" width="1.10" height="4.00" fill="#466ea8"/>
<rect x="304.60" y="286.00" width="1.10" height="1.50" fill="#78c85a"/>
<rect x="304.60" y="287.50" width="1.10" height="2.10" fill="#466ea8"/>
<rect x="305.70" y="275.70" width="1.60" height="5.40" fill="#78c85a"/>
<rect x="305.70" y="281.10" width="1.60" height="8.50" fill="#466ea8"/>
<rect x="307.30" y="285.60" width="1.70" height="1.90" fill="#78c85a"/>
<rect x="307.30" y="287.50" width="1.70" height="2.10" fill="#466ea8"/>
<rect x="309.00" y="287.20" width="2.00" height="1.30" fill="#78c85a"/>
<rect x="309.00" y="288.50" width="2.00" height="1.10" fill="#466ea8"/>
<rect x="311.00" y="288.00" width="1.20" height="1.00" fill="#78c85a"/>
<rect x="311.00" y="289.00" width="1.20" height="0.60" fill="#466ea8"/>
<rect x="312.20" y="281.80" width="1.60" height="3.20" fill="#78c85a"/>
<rect x="312.20" y="285.00" width="1.60" height="4.60" fill="#466ea8"/>
<rect x="313.80" y="287.00" width="0.60" height="1.00" fill="#78c85a"/>
<rect x="313.80" y="288.00" width="0.60" height="1.60" fill="#466ea8"/>
<rect x="314.40" y="284.00" width="2.10" height="2.70" fill="#78c85a"/>
<rect x="314.40" y="286.70" width="2.10" height="2.90" fill="#466ea8"/>
<rect x="316.50" y="286.00" width="0.50" height="1.50" fill="#78c85a"/>
<rect x="316.50" y="287.50" width="0.50" height="2.10" fill="#466ea8"/>
<rect x="317.00" y="277.00" width="1.40" height="4.30" fill="#78c85a"/>
<rect x="317.00" y="281.30" width="1.40" height="8.30" fill="#466ea8"/>
<rect x="318.40" y="284.50" width="2.40" height="2.20" fill="#78c85a"/>
<rect x="318.40" y="286.70" width="2.40" height="2.90" fill="#466ea8"/>
<rect x="320.80" y="287.20" width="2.00" height="1.00" fill="#78c85a"/>
<rect x="320.80" y="288.20" width="2.00" height="1.40" fill="#466ea8"/>
<rect x="322.80" y="242.10" width="1.30" height="17.00" fill="#78c85a"/>
<rect x="322.80" y="259.10" width="1.30" height="30.50" fill="#466ea8"/>
<rect x="324.10" y="285.00" width="3.80" height="2.20" fill="#78c85a"/>
<rect x="324.10" y="287.20" width="3.80" height="2.40" fill="#466ea8"/>
<rect x="327.90" y="281.80" width="2.10" height="3.20" fill="#78c85a"/>
<rect x="327.90" y="285.00" width="2.10" height="4.60" fill="#466ea8"/>
<rect x="330.00" y="285.52" width="1.24" height="2.01" fill="#78c85a"/>
<rect x="330.00" y="287.52" width="1.24" height="2.08" fill="#466ea8"/>
<rect x="331.24" y="285.95" width="1.24" height="1.82" fill="#78c85a"/>
<rect x="331.24" y="287.77" width="1.24" height="1.83" fill="#466ea8"/>
<rect x="332.48" y="286.38" width="1.24" height="1.63" fill="#78c85a"/>
<rect x="332.48" y="288.02" width="1.24" height="1.58" fill="#466ea8"/>
<rect x="333.72" y="286.82" width="1.24" height="1.45" fill="#78c85a"/>
<rect x="333.72" y="288.27" width="1.24" height="1.33" fill="#466ea8"/>
<rect x="334.96" y="287.25" width="1.24" height="1.26" fill="#78c85a"/>
<rect x="334.96" y="288.52" width="1.24" height="1.08" fill="#466ea8"/>
<rect x="336.20" y="287.57" width="1.24" height="1.12" fill="#78c85a"/>
<rect x="336.20" y="288.69" width="1.24" height="0.91" fill="#466ea8"/>
<rect x="337.44" y="287.82" width="1.24" height="1.00" fill="#78c85a"/>
<rect x="337.44" y="288.83" width="1.24" height="0.77" fill="#466ea8"/>
<rect x="338.68" y="288.08" width="1.24" height="0.88" fill="#78c85a"/>
<rect x="338.68" y="288.96" width="1.24" height="0.64" fill="#466ea8"/>
<rect x="339.92" y="288.33" width="1.24" height="0.76" fill="#78c85a"/>
<rect x="339.92" y="289.10" width="1.24" height="0.50" fill="#466ea8"/>
<rect x="341.16" y="288.59" width="1.24" height="0.65" fill="#78c85a"/>
<rect x="341.16" y="289.23" width="1.24" height="0.37" fill="#466ea8"/>
<rect x="342.40" y="288.84" width="1.24" height="0.53" fill="#78c85a"/>
<rect x="342.40" y="289.37" width="1.24" height="0.23" fill="#466ea8"/>
<rect x="343.64" y="288.90" width="0.36" height="0.50" fill="#78c85a"/>
<rect x="343.64" y="289.40" width="0.36" height="0.20" fill="#466ea8"/>
<rect x="344.00" y="281.80" width="0.70" height="2.90" fill="#78c85a"/>
<rect x="344.00" y="284.70" width="0.70" height="4.90" fill="#466ea8"/>
<rect x="344.70" y="282.80" width="1.24" height="2.77" fill="#78c85a"/>
<rect x="344.70" y="285.57" width="1.24" height="4.03" fill="#466ea8"/>
<rect x="345.94" y="283.41" width="1.24" height="2.48" fill="#78c85a"/>
<rect x="345.94" y="285.89" width="1.24" height="3.71" fill="#466ea8"/>
<rect x="347.18" y="284.02" width="1.24" height="2.20" fill="#78c85a"/>
<rect x="347.18" y="286.22" width="1.24" height="3.38" fill="#466ea8"/>
<rect x="348.42" y="284.63" width="1.24" height="1.91" fill="#78c85a"/>
<rect x="348.42" y="286.54" width="1.24" height="3.06" fill="#466ea8"/>
<rect x="349.66" y="285.24" width="1.24" height="1.63" fill="#78c85a"/>
<rect x="349.66" y="286.87" width="1.24" height="2.73" fill="#466ea8"/>
<rect x="350.90" y="285.59" width="1.24" height="1.49" fill="#78c85a"/>
<rect x="350.90" y="287.08" width="1.24" height="2.52" fill="#466ea8"/>
<rect x="352.14" y="285.91" width="1.24" height="1.37" fill="#78c85a"/>
<rect x="352.14" y="287.28" width="1.24" height="2.32" fill="#466ea8"/>
<rect x="353.38" y="286.23" width="1.24" height="1.25" fill="#78c85a"/>
<rect x="353.38" y="287.48" width="1.24" height="2.12" fill="#466ea8"/>
<rect x="354.62" y="286.55" width="1.24" height="1.13" fill="#78c85a"/>
<rect x="354.62" y="287.68" width="1.24" height="1.92" fill="#466ea8"/>
<rect x="355.86" y="286.87" width="1.24" height="1.01" fill="#78c85a"/>
<rect x="355.86" y="287.88" width="1.24" height="1.72" fill="#466ea8"/>
<rect x="357.10" y="287.08" width="1.24" height="0.94" fill="#78c85a"/>
<rect x="357.10" y="288.03" width="1.24" height="1.57" fill="#466ea8"/>
<rect x="358.34" y="287.29" width="1.24" height="0.88" fill="#78c85a"/>
<rect x="358.34" y="288.17" width="1.24" height="1.43" fill="#466ea8"/>
<rect x="359.58" y="287.49" width="1.24" height="0.82" fill="#78c85a"/>
<rect x="359.58" y="288.31" width="1.24" height="1.29" fill="#466ea8"/>
<rect x="360.82" y="287.69" width="1.24" height="0.76" fill="#78c85a"/>
<rect x="360.82" y="288.46" width="1.24" height="1.14" fill="#466ea8"/>
<rect x="362.06" y="287.90" width="1.24" height="0.70" fill="#78c85a"/>
<rect x="362.06" y="288.60" width="1.24" height="1.00" fill="#466ea8"/>
<rect x="363.30" y="288.05" width="1.24" height="0.64" fill="#78c85a"/>
<rect x="363.30" y="288.69" width="1.24" height="0.91" fill="#466ea8"/>
<rect x="364.54" y="288.20" width="1.24" height="0.58" fill="#78c85a"/>
<rect x="364.54" y="288.78" width="1.24" height="0.82" fill="#466ea8"/>
<rect x="365.78" y="288.35" width="1.24" height="0.52" fill="#78c85a"/>
<rect x="365.78" y="288.87" width="1.24" height="0.73" fill="#466ea8"/>
<rect x="367.02" y="288.50" width="1.24" height="0.46" fill="#78c85a"/>
<rect x="367.02" y="288.96" width="1.24" height="0.64" fill="#466ea8"/>
<rect x="368.26" y="288.65" width="1.24" height="0.40" fill="#78c85a"/>
<rect x="368.26" y="289.05" width="1.24" height="0.55" fill="#466ea8"/>
<rect x="369.50" y="288.80" width="1.24" height="0.34" fill="#78c85a"/>
<rect x="369.50" y="289.14" width="1.24" height="0.46" fill="#466ea8"/>
<rect x="370.74" y="288.92" width="1.24" height="0.29" fill="#78c85a"/>
<rect x="370.74" y="289.22" width="1.24" height="0.38" fill="#466ea8"/>
<rect x="371.98" y="288.98" width="1.24" height="0.27" fill="#78c85a"/>
<rect x="371.98" y="289.26" width="1.24" height="0.34" fill="#466ea8"/>
<rect x="373.22" y="289.05" width="1.24" height="0.26" fill="#78c85a"/>
<rect x="373.22" y="289.30" width="1.24" height="0.30" fill="#466ea8"/>
<rect x="374.46" y="289.11" width="1.24" height="0.24" fill="#78c85a"/>
<rect x="374.46" y="289.34" width="1.24" height="0.26" fill="#466ea8"/>
<rect x="375.70" y="289.17" width="1.24" height="0.22" fill="#78c85a"/>
<rect x="375.70" y="289.39" width="1.24" height="0.21" fill="#466ea8"/>
<rect x="376.94" y="289.23" width="1.24" height="0.20" fill="#78c85a"/>
<rect x="376.94" y="289.43" width="1.24" height="0.17" fill="#466ea8"/>
<rect x="378.18" y="289.29" width="1.24" height="0.18" fill="#78c85a"/>
<rect x="378.18" y="289.47" width="1.24" height="0.13" fill="#466ea8"/>
<rect x="379.42" y="289.35" width="1.24" height="0.16" fill="#78c85a"/>
<rect x="379.42" y="289.52" width="1.24" height="0.08" fill="#466ea8"/>
<rect x="380.66" y="289.41" width="1.24" height="0.15" fill="#78c85a"/>
<rect x="380.66" y="289.55" width="1.24" height="0.05" fill="#466ea8"/>
<rect x="381.90" y="289.43" width="1.24" height="0.14" fill="#78c85a"/>
<rect x="381.90" y="289.57" width="1.24" height="0.03" fill="#466ea8"/>
<rect x="383.14" y="289.46" width="1.24" height="0.13" fill="#78c85a"/>
<rect x="383.14" y="289.59" width="1.24" height="0.01" fill="#466ea8"/>
<rect x="384.38" y="289.48" width="1.24" height="0.12" fill="#78c85a"/>
<rect x="384.38" y="289.61" width="1.24" height="-0.01" fill="#466ea8"/>
<rect x="385.62" y="289.51" width="1.24" height="0.11" fill="#78c85a"/>
<rect x="385.62" y="289.62" width="1.24" height="-0.02" fill="#466ea8"/>
<rect x="386.86" y="289.53" width="1.24" height="0.11" fill="#78c85a"/>
<rect x="386.86" y="289.64" width="1.24" height="-0.04" fill="#466ea8"/>
<rect x="388.10" y="289.56" width="1.24" height="0.10" fill="#78c85a"/>
<rect x="388.10" y="289.66" width="1.24" height="-0.06" fill="#466ea8"/>
<rect x="389.34" y="289.59" width="1.24" height="0.09" fill="#78c85a"/>
<rect x="389.34" y="289.67" width="1.24" height="-0.07" fill="#466ea8"/>
<rect x="390.58" y="289.61" width="1.24" height="0.08" fill="#78c85a"/>
<rect x="390.58" y="289.69" width="1.24" height="-0.09" fill="#466ea8"/>
<rect x="391.82" y="289.64" width="1.24" height="0.07" fill="#78c85a"/>
<rect x="391.82" y="289.71" width="1.24" height="-0.11" fill="#466ea8"/>
<rect x="393.06" y="289.66" width="1.24" height="0.06" fill="#78c85a"/>
<rect x="393.06" y="289.73" width="1.24" height="-0.13" fill="#466ea8"/>
<rect x="394.30" y="289.69" width="1.10" height="0.05" fill="#78c85a"/>
<rect x="394.30" y="289.74" width="1.10" height="-0.14" fill="#466ea8"/>
<rect x="112.9" y="295.2" width="282.60" height="181.52" fill="#f1f1f1"/>
<rect x="112.9" y="302.52" width="282.60" height="0.4" fill="#fafafa"/>
<rect x="112.9" y="310.10" width="282.60" height="0.4" fill="#fafafa"/>
<rect x="112.9" y="317.68" width="282.60" height="0.4" fill="#fafafa"/>
<rect x="112.9" y="325.25" width="282.60" height="0.4" fill="#fafafa"/>
<rect x="112.9" y="332.82" width="282.60" height="0.4" fill="#fafafa"/>
<rect x="112.9" y="340.40" width="282.60" height="0.4" fill="#fafafa"/>
<rect x="112.9" y="347.97" width="282.60" height="0.4" fill="#fafafa"/>
<rect x="112.9" y="355.55" width="282.60" height="0.4" fill="#fafafa"/>
<rect x="112.9" y="363.12" width="282.60" height="0.4" fill="#fafafa"/>
<rect x="112.9" y="370.70" width="282.60" height="0.4" fill="#fafafa"/>
<rect x="112.9" y="378.27" width="282.60" height="0.4" fill="#fafafa"/>
<rect x="112.9" y="385.85" width="282.60" height="0.4" fill="#fafafa"/>
<rect x="112.9" y="393.43" width="282.60" height="0.4" fill="#fafafa"/>
<rect x="112.9" y="401.00" width="282.60" height="0.4" fill="#fafafa"/>
<rect x="112.9" y="408.57" width="282.60" height="0.4" fill="#fafafa"/>
<rect x="112.9" y="416.15" width="282.60" height="0.4" fill="#fafafa"/>
<rect x="112.9" y="423.73" width="282.60" height="0.4" fill="#fafafa"/>
<rect x="112.9" y="431.30" width="282.60" height="0.4" fill="#fafafa"/>
<rect x="112.9" y="438.88" width="282.60" height="0.4" fill="#fafafa"/>
<rect x="112.9" y="446.45" width="282.60" height="0.4" fill="#fafafa"/>
<rect x="112.9" y="454.02" width="282.60" height="0.4" fill="#fafafa"/>
<rect x="112.9" y="461.60" width="282.60" height="0.4" fill="#fafafa"/>
<rect x="112.9" y="469.17" width="282.60" height="0.4" fill="#fafafa"/>
<rect x="113.00" y="295.20" width="97.10" height="7.3" fill="#699bc8"/>
<rect x="125.90" y="295.20" width="1.00" height="7.3" fill="#b26ecd"/>
<rect x="322.90" y="295.20" width="1.10" height="7.3" fill="#78cf68"/>
<rect x="113.00" y="302.77" width="3.70" height="7.3" fill="#699bc8"/>
<rect x="116.70" y="302.77" width="0.90" height="7.3" fill="#b26ecd"/>
<rect x="117.60" y="302.77" width="1.60" height="7.3" fill="#699bc8"/>
<rect x="119.20" y="302.77" width="2.50" height="7.3" fill="#e0584a"/>
<rect x="205.00" y="302.77" width="1.00" height="7.3" fill="#78cf68"/>
<rect x="210.20" y="302.77" width="2.70" height="7.3" fill="#699bc8"/>
<rect x="212.90" y="302.77" width="2.10" height="7.3" fill="#e0584a"/>
<rect x="215.00" y="302.77" width="6.00" height="7.3" fill="#699bc8"/>
<rect x="221.00" y="302.77" width="1.00" height="7.3" fill="#e0584a"/>
<rect x="222.00" y="302.77" width="4.00" height="7.3" fill="#699bc8"/>
<rect x="226.00" y="302.77" width="1.10" height="7.3" fill="#e0584a"/>
<rect x="227.10" y="302.77" width="1.10" height="7.3" fill="#b26ecd"/>
<rect x="228.20" y="302.77" width="0.50" height="7.3" fill="#dcb8e8"/>
<rect x="113.00" y="310.35" width="0.70" height="7.3" fill="#a9c6e2"/>
<rect x="122.00" y="310.35" width="1.80" height="7.3" fill="#699bc8"/>
<rect x="123.80" y="310.35" width="0.60" height="7.3" fill="#b26ecd"/>
<rect x="124.40" y="310.35" width="1.30" height="7.3" fill="#699bc8"/>
<rect x="210.20" y="310.35" width="1.50" height="7.3" fill="#699bc8"/>
<rect x="228.30" y="310.35" width="1.80" height="7.3" fill="#699bc8"/>
<rect x="230.10" y="310.35" width="0.90" height="7.3" fill="#e0584a"/>
<rect x="231.00" y="310.35" width="4.10" height="7.3" fill="#699bc8"/>
<rect x="235.10" y="310.35" width="0.90" height="7.3" fill="#e0584a"/>
<rect x="236.00" y="310.35" width="5.00" height="7.3" fill="#699bc8"/>
<rect x="250.90" y="310.35" width="0.90" height="7.3" fill="#78cf68"/>
<rect x="113.00" y="317.93" width="1.70" height="7.3" fill="#dcb8e8"/>
<rect x="125.90" y="317.93" width="1.00" height="7.3" fill="#e0584a"/>
<rect x="126.90" y="317.93" width="4.40" height="7.3" fill="#b26ecd"/>
<rect x="212.00" y="317.93" width="1.00" height="7.3" fill="#699bc8"/>
<rect x="241.00" y="317.93" width="1.20" height="7.3" fill="#b26ecd"/>
<rect x="242.20" y="317.93" width="2.80" height="7.3" fill="#699bc8"/>
<rect x="245.00" y="317.93" width="1.90" height="7.3" fill="#b26ecd"/>
<rect x="113.90" y="325.50" width="1.80" height="7.3" fill="#b26ecd"/>
<rect x="125.90" y="325.50" width="2.00" height="7.3" fill="#b26ecd"/>
<rect x="131.30" y="325.50" width="21.70" height="7.3" fill="#b26ecd"/>
<rect x="212.70" y="325.50" width="2.10" height="7.3" fill="#b26ecd"/>
<rect x="228.30" y="325.50" width="2.70" height="7.3" fill="#b26ecd"/>
<rect x="247.20" y="325.50" width="24.70" height="7.3" fill="#b26ecd"/>
<rect x="349.90" y="325.50" width="1.00" height="7.3" fill="#78cf68"/>
<rect x="122.00" y="333.07" width="1.00" height="7.3" fill="#699bc8"/>
<rect x="131.30" y="333.07" width="0.80" height="7.3" fill="#a9c6e2"/>
<rect x="153.40" y="333.07" width="0.90" height="7.3" fill="#e0584a"/>
<rect x="154.30" y="333.07" width="3.70" height="7.3" fill="#699bc8"/>
<rect x="159.90" y="333.07" width="1.20" height="7.3" fill="#78cf68"/>
<rect x="215.10" y="333.07" width="1.00" height="7.3" fill="#699bc8"/>
<rect x="246.90" y="333.07" width="1.10" height="7.3" fill="#699bc8"/>
<rect x="271.90" y="333.07" width="2.10" height="7.3" fill="#699bc8"/>
<rect x="115.70" y="340.65" width="1.00" height="7.3" fill="#699bc8"/>
<rect x="127.20" y="340.65" width="1.20" height="7.3" fill="#78cf68"/>
<rect x="131.90" y="340.65" width="0.90" height="7.3" fill="#699bc8"/>
<rect x="158.00" y="340.65" width="1.00" height="7.3" fill="#699bc8"/>
<rect x="164.10" y="340.65" width="0.90" height="7.3" fill="#78cf68"/>
<rect x="172.90" y="340.65" width="1.00" height="7.3" fill="#78cf68"/>
<rect x="241.00" y="340.65" width="0.80" height="7.3" fill="#a9c6e2"/>
<rect x="247.80" y="340.65" width="1.50" height="7.3" fill="#699bc8"/>
<rect x="274.00" y="340.65" width="6.60" height="7.3" fill="#699bc8"/>
<rect x="116.40" y="348.22" width="1.20" height="7.3" fill="#a9c6e2"/>
<rect x="131.30" y="348.22" width="0.60" height="7.3" fill="#a9c6e2"/>
<rect x="132.50" y="348.22" width="2.10" height="7.3" fill="#699bc8"/>
<rect x="159.00" y="348.22" width="0.90" height="7.3" fill="#699bc8"/>
<rect x="159.90" y="348.22" width="1.00" height="7.3" fill="#b26ecd"/>
<rect x="160.90" y="348.22" width="1.10" height="7.3" fill="#e0584a"/>
<rect x="162.00" y="348.22" width="1.00" height="7.3" fill="#699bc8"/>
<rect x="163.00" y="348.22" width="1.00" height="7.3" fill="#e0584a"/>
<rect x="215.80" y="348.22" width="1.20" height="7.3" fill="#e0584a"/>
<rect x="273.20" y="348.22" width="1.50" height="7.3" fill="#dcb8e8"/>
<rect x="280.60" y="348.22" width="3.00" height="7.3" fill="#699bc8"/>
<rect x="283.60" y="348.22" width="1.30" height="7.3" fill="#e0584a"/>
<rect x="123.00" y="355.80" width="1.00" height="7.3" fill="#e0584a"/>
<rect x="126.00" y="355.80" width="1.00" height="7.3" fill="#e0584a"/>
<rect x="134.10" y="355.80" width="1.50" height="7.3" fill="#eea59c"/>
<rect x="141.50" y="355.80" width="1.20" height="7.3" fill="#b2e2a6"/>
<rect x="153.90" y="355.80" width="1.00" height="7.3" fill="#78cf68"/>
<rect x="164.10" y="355.80" width="0.90" height="7.3" fill="#b26ecd"/>
<rect x="165.00" y="355.80" width="1.80" height="7.3" fill="#699bc8"/>
<rect x="166.80" y="355.80" width="2.20" height="7.3" fill="#e0584a"/>
<rect x="211.70" y="355.80" width="1.00" height="7.3" fill="#e0584a"/>
<rect x="215.10" y="355.80" width="1.00" height="7.3" fill="#699bc8"/>
<rect x="227.90" y="355.80" width="1.00" height="7.3" fill="#e0584a"/>
<rect x="249.00" y="355.80" width="1.90" height="7.3" fill="#699bc8"/>
<rect x="250.90" y="355.80" width="1.60" height="7.3" fill="#e0584a"/>
<rect x="274.00" y="355.80" width="1.30" height="7.3" fill="#a9c6e2"/>
<rect x="284.00" y="355.80" width="0.90" height="7.3" fill="#78cf68"/>
<rect x="284.90" y="355.80" width="2.80" height="7.3" fill="#e0584a"/>
<rect x="287.70" y="355.80" width="1.30" height="7.3" fill="#699bc8"/>
<rect x="289.00" y="355.80" width="2.40" height="7.3" fill="#e0584a"/>
<rect x="292.00" y="355.80" width="1.00" height="7.3" fill="#78cf68"/>
<rect x="117.00" y="363.38" width="1.00" height="7.3" fill="#eea59c"/>
<rect x="126.00" y="363.38" width="1.00" height="7.3" fill="#e0584a"/>
<rect x="168.70" y="363.38" width="1.00" height="7.3" fill="#699bc8"/>
<rect x="212.60" y="363.38" width="1.00" height="7.3" fill="#dcb8e8"/>
<rect x="215.80" y="363.38" width="0.90" height="7.3" fill="#e0584a"/>
<rect x="252.20" y="363.38" width="1.20" height="7.3" fill="#a9c6e2"/>
<rect x="280.30" y="363.38" width="1.20" height="7.3" fill="#dcb8e8"/>
<rect x="282.70" y="363.38" width="0.90" height="7.3" fill="#78cf68"/>
<rect x="291.70" y="363.38" width="1.30" height="7.3" fill="#699bc8"/>
<rect x="293.00" y="363.38" width="0.70" height="7.3" fill="#e0584a"/>
<rect x="114.20" y="370.95" width="1.50" height="7.3" fill="#699bc8"/>
<rect x="127.20" y="370.95" width="1.50" height="7.3" fill="#a9c6e2"/>
<rect x="135.00" y="370.95" width="0.90" height="7.3" fill="#a9c6e2"/>
<rect x="137.20" y="370.95" width="1.50" height="7.3" fill="#b2e2a6"/>
<rect x="165.80" y="370.95" width="1.00" height="7.3" fill="#78cf68"/>
<rect x="170.00" y="370.95" width="1.20" height="7.3" fill="#699bc8"/>
<rect x="213.00" y="370.95" width="1.20" height="7.3" fill="#eea59c"/>
<rect x="230.80" y="370.95" width="2.10" height="7.3" fill="#699bc8"/>
<rect x="240.70" y="370.95" width="0.90" height="7.3" fill="#a9c6e2"/>
<rect x="252.80" y="370.95" width="1.20" height="7.3" fill="#a9c6e2"/>
<rect x="274.90" y="370.95" width="1.00" height="7.3" fill="#699bc8"/>
<rect x="281.90" y="370.95" width="0.80" height="7.3" fill="#699bc8"/>
<rect x="293.90" y="370.95" width="3.10" height="7.3" fill="#699bc8"/>
<rect x="354.00" y="370.95" width="1.00" height="7.3" fill="#78cf68"/>
<rect x="116.00" y="378.52" width="1.00" height="7.3" fill="#b26ecd"/>
<rect x="123.00" y="378.52" width="1.00" height="7.3" fill="#699bc8"/>
<rect x="136.00" y="378.52" width="0.90" height="7.3" fill="#699bc8"/>
<rect x="171.20" y="378.52" width="0.80" height="7.3" fill="#b26ecd"/>
<rect x="172.00" y="378.52" width="1.70" height="7.3" fill="#699bc8"/>
<rect x="216.10" y="378.52" width="1.60" height="7.3" fill="#a9c6e2"/>
<rect x="227.90" y="378.52" width="1.00" height="7.3" fill="#b26ecd"/>
<rect x="247.00" y="378.52" width="0.80" height="7.3" fill="#b26ecd"/>
<rect x="254.00" y="378.52" width="1.90" height="7.3" fill="#699bc8"/>
<rect x="275.90" y="378.52" width="1.00" height="7.3" fill="#b26ecd"/>
<rect x="297.00" y="378.52" width="1.30" height="7.3" fill="#699bc8"/>
<rect x="298.30" y="378.52" width="1.50" height="7.3" fill="#b26ecd"/>
<rect x="112.90" y="386.10" width="1.00" height="7.3" fill="#eea59c"/>
<rect x="113.90" y="386.10" width="0.80" height="7.3" fill="#699bc8"/>
<rect x="122.00" y="386.10" width="1.00" height="7.3" fill="#e0584a"/>
<rect x="127.90" y="386.10" width="0.90" height="7.3" fill="#a9c6e2"/>
<rect x="136.00" y="386.10" width="0.90" height="7.3" fill="#699bc8"/>
<rect x="153.00" y="386.10" width="1.00" height="7.3" fill="#a9c6e2"/>
<rect x="159.00" y="386.10" width="1.00" height="7.3" fill="#e0584a"/>
<rect x="171.00" y="386.10" width="0.80" height="7.3" fill="#eea59c"/>
<rect x="174.30" y="386.10" width="2.50" height="7.3" fill="#e0584a"/>
<rect x="176.80" y="386.10" width="0.90" height="7.3" fill="#b26ecd"/>
<rect x="230.10" y="386.10" width="1.50" height="7.3" fill="#eea59c"/>
<rect x="254.00" y="386.10" width="1.00" height="7.3" fill="#e0584a"/>
<rect x="255.00" y="386.10" width="0.90" height="7.3" fill="#699bc8"/>
<rect x="271.90" y="386.10" width="0.90" height="7.3" fill="#699bc8"/>
<rect x="300.20" y="386.10" width="1.20" height="7.3" fill="#699bc8"/>
<rect x="301.40" y="386.10" width="1.20" height="7.3" fill="#e0584a"/>
<rect x="302.60" y="386.10" width="1.30" height="7.3" fill="#699bc8"/>
<rect x="303.90" y="386.10" width="1.20" height="7.3" fill="#e0584a"/>
<rect x="305.10" y="386.10" width="0.90" height="7.3" fill="#699bc8"/>
<rect x="129.00" y="393.68" width="1.00" height="7.3" fill="#699bc8"/>
<rect x="136.90" y="393.68" width="1.60" height="7.3" fill="#699bc8"/>
<rect x="177.70" y="393.68" width="2.20" height="7.3" fill="#699bc8"/>
<rect x="212.40" y="393.68" width="1.20" height="7.3" fill="#a9c6e2"/>
<rect x="240.70" y="393.68" width="0.90" height="7.3" fill="#699bc8"/>
<rect x="249.00" y="393.68" width="1.00" height="7.3" fill="#a9c6e2"/>
<rect x="297.00" y="393.68" width="1.00" height="7.3" fill="#78cf68"/>
<rect x="306.70" y="393.68" width="1.30" height="7.3" fill="#e0584a"/>
<rect x="308.00" y="393.68" width="5.00" height="7.3" fill="#699bc8"/>
<rect x="211.70" y="401.25" width="1.90" height="7.3" fill="#699bc8"/>
<rect x="214.80" y="401.25" width="0.90" height="7.3" fill="#699bc8"/>
<rect x="216.70" y="401.25" width="1.30" height="7.3" fill="#699bc8"/>
<rect x="250.00" y="401.25" width="0.90" height="7.3" fill="#a9c6e2"/>
<rect x="259.10" y="401.25" width="1.30" height="7.3" fill="#b2e2a6"/>
<rect x="283.00" y="401.25" width="1.00" height="7.3" fill="#699bc8"/>
<rect x="297.00" y="401.25" width="0.90" height="7.3" fill="#699bc8"/>
<rect x="313.00" y="401.25" width="2.70" height="7.3" fill="#699bc8"/>
<rect x="179.90" y="408.82" width="1.90" height="7.3" fill="#699bc8"/>
<rect x="212.70" y="408.82" width="0.90" height="7.3" fill="#a9c6e2"/>
<rect x="215.70" y="408.82" width="1.00" height="7.3" fill="#699bc8"/>
<rect x="218.00" y="408.82" width="1.80" height="7.3" fill="#699bc8"/>
<rect x="250.90" y="408.82" width="0.90" height="7.3" fill="#e0584a"/>
<rect x="253.80" y="408.82" width="1.20" height="7.3" fill="#699bc8"/>
<rect x="255.90" y="408.82" width="1.20" height="7.3" fill="#699bc8"/>
<rect x="276.50" y="408.82" width="1.30" height="7.3" fill="#a9c6e2"/>
<rect x="285.20" y="408.82" width="1.30" height="7.3" fill="#699bc8"/>
<rect x="294.60" y="408.82" width="1.00" height="7.3" fill="#b2e2a6"/>
<rect x="312.60" y="408.82" width="1.20" height="7.3" fill="#a9c6e2"/>
<rect x="315.70" y="408.82" width="3.10" height="7.3" fill="#699bc8"/>
<rect x="112.60" y="416.40" width="1.30" height="7.3" fill="#a9c6e2"/>
<rect x="181.20" y="416.40" width="1.90" height="7.3" fill="#699bc8"/>
<rect x="212.90" y="416.40" width="1.30" height="7.3" fill="#699bc8"/>
<rect x="214.20" y="416.40" width="0.60" height="7.3" fill="#78cf68"/>
<rect x="255.20" y="416.40" width="1.30" height="7.3" fill="#a9c6e2"/>
<rect x="256.00" y="416.40" width="1.00" height="7.3" fill="#a9c6e2"/>
<rect x="285.20" y="416.40" width="0.90" height="7.3" fill="#699bc8"/>
<rect x="286.80" y="416.40" width="1.20" height="7.3" fill="#e0584a"/>
<rect x="306.20" y="416.40" width="0.90" height="7.3" fill="#a9c6e2"/>
<rect x="313.30" y="416.40" width="0.90" height="7.3" fill="#a9c6e2"/>
<rect x="319.00" y="416.40" width="1.20" height="7.3" fill="#699bc8"/>
<rect x="112.60" y="423.98" width="1.30" height="7.3" fill="#a9c6e2"/>
<rect x="116.90" y="423.98" width="1.10" height="7.3" fill="#a9c6e2"/>
<rect x="122.00" y="423.98" width="2.20" height="7.3" fill="#699bc8"/>
<rect x="138.00" y="423.98" width="1.60" height="7.3" fill="#a9c6e2"/>
<rect x="241.10" y="423.98" width="1.50" height="7.3" fill="#a9c6e2"/>
<rect x="287.40" y="423.98" width="1.30" height="7.3" fill="#a9c6e2"/>
<rect x="313.90" y="423.98" width="0.90" height="7.3" fill="#699bc8"/>
<rect x="320.30" y="423.98" width="0.90" height="7.3" fill="#a9c6e2"/>
<rect x="154.00" y="431.55" width="1.00" height="7.3" fill="#699bc8"/>
<rect x="196.20" y="431.55" width="1.00" height="7.3" fill="#78cf68"/>
<rect x="257.00" y="431.55" width="1.00" height="7.3" fill="#699bc8"/>
<rect x="292.20" y="431.55" width="1.00" height="7.3" fill="#78cf68"/>
<rect x="293.80" y="431.55" width="0.90" height="7.3" fill="#a9c6e2"/>
<rect x="306.90" y="431.55" width="2.50" height="7.3" fill="#699bc8"/>
<rect x="321.00" y="431.55" width="2.80" height="7.3" fill="#699bc8"/>
<rect x="122.90" y="439.12" width="1.00" height="7.3" fill="#699bc8"/>
<rect x="163.80" y="439.12" width="1.30" height="7.3" fill="#e0584a"/>
<rect x="165.10" y="439.12" width="0.90" height="7.3" fill="#699bc8"/>
<rect x="169.00" y="439.12" width="1.00" height="7.3" fill="#78cf68"/>
<rect x="173.30" y="439.12" width="1.40" height="7.3" fill="#a9c6e2"/>
<rect x="241.10" y="439.12" width="1.50" height="7.3" fill="#a9c6e2"/>
<rect x="243.90" y="439.12" width="1.00" height="7.3" fill="#78cf68"/>
<rect x="299.80" y="439.12" width="1.10" height="7.3" fill="#78cf68"/>
<rect x="312.90" y="439.12" width="1.00" height="7.3" fill="#a9c6e2"/>
<rect x="315.50" y="439.12" width="1.20" height="7.3" fill="#a9c6e2"/>
<rect x="323.20" y="439.12" width="1.60" height="7.3" fill="#eea59c"/>
<rect x="357.90" y="439.12" width="0.90" height="7.3" fill="#78cf68"/>
<rect x="118.00" y="446.70" width="0.80" height="7.3" fill="#699bc8"/>
<rect x="122.90" y="446.70" width="1.00" height="7.3" fill="#78cf68"/>
<rect x="233.00" y="446.70" width="0.90" height="7.3" fill="#699bc8"/>
<rect x="282.00" y="446.70" width="0.90" height="7.3" fill="#699bc8"/>
<rect x="318.70" y="446.70" width="1.00" height="7.3" fill="#699bc8"/>
<rect x="321.00" y="446.70" width="0.90" height="7.3" fill="#699bc8"/>
<rect x="323.80" y="446.70" width="1.00" height="7.3" fill="#699bc8"/>
<rect x="113.00" y="454.27" width="1.60" height="7.3" fill="#a9c6e2"/>
<rect x="138.90" y="454.27" width="1.10" height="7.3" fill="#699bc8"/>
<rect x="169.90" y="454.27" width="1.00" height="7.3" fill="#699bc8"/>
<rect x="183.10" y="454.27" width="0.90" height="7.3" fill="#699bc8"/>
<rect x="231.10" y="454.27" width="1.00" height="7.3" fill="#a9c6e2"/>
<rect x="251.00" y="454.27" width="0.80" height="7.3" fill="#699bc8"/>
<rect x="285.20" y="454.27" width="0.90" height="7.3" fill="#a9c6e2"/>
<rect x="298.00" y="454.27" width="1.00" height="7.3" fill="#699bc8"/>
<rect x="314.80" y="454.27" width="1.00" height="7.3" fill="#699bc8"/>
<rect x="325.10" y="454.27" width="2.90" height="7.3" fill="#699bc8"/>
<rect x="122.00" y="461.85" width="0.90" height="7.3" fill="#699bc8"/>
<rect x="159.20" y="461.85" width="1.50" height="7.3" fill="#a9c6e2"/>
<rect x="160.00" y="461.85" width="1.00" height="7.3" fill="#a9c6e2"/>
<rect x="181.20" y="461.85" width="1.20" height="7.3" fill="#a9c6e2"/>
<rect x="210.00" y="461.85" width="0.80" height="7.3" fill="#a9c6e2"/>
<rect x="212.90" y="461.85" width="0.90" height="7.3" fill="#699bc8"/>
<rect x="214.40" y="461.85" width="0.60" height="7.3" fill="#699bc8"/>
<rect x="215.40" y="461.85" width="0.90" height="7.3" fill="#699bc8"/>
<rect x="216.70" y="461.85" width="0.90" height="7.3" fill="#699bc8"/>
<rect x="220.20" y="461.85" width="3.80" height="7.3" fill="#699bc8"/>
<rect x="229.20" y="461.85" width="2.50" height="7.3" fill="#699bc8"/>
<rect x="234.30" y="461.85" width="2.50" height="7.3" fill="#699bc8"/>
<rect x="242.00" y="461.85" width="1.60" height="7.3" fill="#699bc8"/>
<rect x="247.10" y="461.85" width="1.70" height="7.3" fill="#699bc8"/>
<rect x="249.00" y="461.85" width="1.30" height="7.3" fill="#699bc8"/>
<rect x="251.60" y="461.85" width="1.30" height="7.3" fill="#699bc8"/>
<rect x="254.80" y="461.85" width="3.20" height="7.3" fill="#699bc8"/>
<rect x="257.90" y="461.85" width="3.00" height="7.3" fill="#699bc8"/>
<rect x="272.00" y="461.85" width="3.00" height="7.3" fill="#699bc8"/>
<rect x="275.90" y="461.85" width="2.90" height="7.3" fill="#a9c6e2"/>
<rect x="283.60" y="461.85" width="1.60" height="7.3" fill="#a9c6e2"/>
<rect x="287.80" y="461.85" width="4.70" height="7.3" fill="#699bc8"/>
<rect x="298.00" y="461.85" width="4.40" height="7.3" fill="#699bc8"/>
<rect x="302.00" y="461.85" width="1.00" height="7.3" fill="#a9c6e2"/>
<rect x="309.00" y="461.85" width="1.30" height="7.3" fill="#a9c6e2"/>
<rect x="312.90" y="461.85" width="2.90" height="7.3" fill="#699bc8"/>
<rect x="316.10" y="461.85" width="1.90" height="7.3" fill="#a9c6e2"/>
<rect x="319.30" y="461.85" width="1.90" height="7.3" fill="#699bc8"/>
<rect x="323.80" y="461.85" width="3.20" height="7.3" fill="#699bc8"/>
<rect x="328.30" y="461.85" width="15.30" height="7.3" fill="#699bc8"/>
<rect x="128.00" y="469.42" width="0.90" height="7.3" fill="#a9c6e2"/>
<rect x="153.90" y="469.42" width="1.10" height="7.3" fill="#e0584a"/>
<rect x="169.00" y="469.42" width="1.00" height="7.3" fill="#78cf68"/>
<rect x="211.80" y="469.42" width="1.10" height="7.3" fill="#699bc8"/>
<rect x="224.00" y="469.42" width="0.90" height="7.3" fill="#a9c6e2"/>
<rect x="234.30" y="469.42" width="0.90" height="7.3" fill="#699bc8"/>
<rect x="247.10" y="469.42" width="0.90" height="7.3" fill="#699bc8"/>
<rect x="280.40" y="469.42" width="1.20" height="7.3" fill="#a9c6e2"/>
<rect x="321.90" y="469.42" width="1.30" height="7.3" fill="#699bc8"/>
<rect x="323.50" y="469.42" width="1.30" height="7.3" fill="#a9c6e2"/>
<rect x="392.5" y="250.20" width="3.6" height="3.4" fill="#4cc43a" stroke="#000" stroke-width="0.8"/>
<text transform="translate(401.0,253.60) scale(0.93,1)" font-size="5.4" fill="#000" stroke="#000" stroke-width="0.12">Syn.</text>
<rect x="392.5" y="256.60" width="3.6" height="3.4" fill="#3b87cf" stroke="#000" stroke-width="0.8"/>
<text transform="translate(401.0,260.00) scale(0.93,1)" font-size="5.4" fill="#000" stroke="#000" stroke-width="0.12">Missense</text>
<rect x="392.5" y="263.00" width="3.6" height="3.4" fill="#9b3fc8" stroke="#000" stroke-width="0.8"/>
<text transform="translate(401.0,266.40) scale(0.93,1)" font-size="5.4" fill="#000" stroke="#000" stroke-width="0.12">Splice site</text>
<rect x="392.5" y="269.40" width="3.6" height="3.4" fill="#e52a20" stroke="#000" stroke-width="0.8"/>
<text transform="translate(401.0,272.80) scale(0.93,1)" font-size="5.4" fill="#000" stroke="#000" stroke-width="0.12">Nonsense</text>
<rect x="442.5" y="250.20" width="3.6" height="3.4" fill="#ec8a1c" stroke="#000" stroke-width="0.8"/>
<text transform="translate(451.0,253.60) scale(0.93,1)" font-size="5.4" fill="#000" stroke="#000" stroke-width="0.12">Frame shift</text>
<rect x="442.5" y="256.60" width="3.6" height="3.4" fill="#f2e21e" stroke="#000" stroke-width="0.8"/>
<text transform="translate(451.0,260.00) scale(0.93,1)" font-size="5.4" fill="#000" stroke="#000" stroke-width="0.12">In frame indel</text>
<rect x="442.5" y="263.00" width="3.6" height="3.4" fill="#a85a22" stroke="#000" stroke-width="0.8"/>
<text transform="translate(451.0,266.40) scale(0.93,1)" font-size="5.4" fill="#000" stroke="#000" stroke-width="0.12">Other non syn.</text>
<text transform="translate(430.6,301.20) scale(0.86,1)" font-size="6.8" text-anchor="end" fill="#000" stroke="#000" stroke-width="0.1">BRAF</text>
<text transform="translate(430.6,308.77) scale(0.86,1)" font-size="6.8" text-anchor="end" fill="#000" stroke="#000" stroke-width="0.1">TP53</text>
<text transform="translate(430.6,316.35) scale(0.86,1)" font-size="6.8" text-anchor="end" fill="#000" stroke="#000" stroke-width="0.1">PPP6C</text>
<text transform="translate(430.6,323.93) scale(0.86,1)" font-size="6.8" text-anchor="end" fill="#000" stroke="#000" stroke-width="0.1">ATP5O</text>
<text transform="translate(430.6,331.50) scale(0.86,1)" font-size="6.8" text-anchor="end" fill="#000" stroke="#000" stroke-width="0.1">PPP1R2</text>
<text transform="translate(430.6,339.07) scale(0.86,1)" font-size="6.8" text-anchor="end" fill="#000" stroke="#000" stroke-width="0.1">RQCD1</text>
<text transform="translate(430.6,346.65) scale(0.86,1)" font-size="6.8" text-anchor="end" fill="#000" stroke="#000" stroke-width="0.1">IDH1</text>
<text transform="translate(430.6,354.22) scale(0.86,1)" font-size="6.8" text-anchor="end" fill="#000" stroke="#000" stroke-width="0.1">PTEN</text>
<text transform="translate(430.6,361.80) scale(0.86,1)" font-size="6.8" text-anchor="end" fill="#000" stroke="#000" stroke-width="0.1">ARID2</text>
<text transform="translate(430.6,369.38) scale(0.86,1)" font-size="6.8" text-anchor="end" fill="#000" stroke="#000" stroke-width="0.1">ZFX</text>
<text transform="translate(430.6,376.95) scale(0.86,1)" font-size="6.8" text-anchor="end" fill="#000" stroke="#000" stroke-width="0.1">MAP2K1</text>
<text transform="translate(430.6,384.52) scale(0.86,1)" font-size="6.8" text-anchor="end" fill="#000" stroke="#000" stroke-width="0.1">OGT</text>
<text transform="translate(430.6,392.10) scale(0.86,1)" font-size="6.8" text-anchor="end" fill="#000" stroke="#000" stroke-width="0.1">CDKN2A</text>
<text transform="translate(430.6,399.68) scale(0.86,1)" font-size="6.8" text-anchor="end" fill="#000" stroke="#000" stroke-width="0.1">CTNNB1</text>
<text transform="translate(430.6,407.25) scale(0.86,1)" font-size="6.8" text-anchor="end" fill="#000" stroke="#000" stroke-width="0.1">KIF2C</text>
<text transform="translate(430.6,414.82) scale(0.86,1)" font-size="6.8" text-anchor="end" fill="#000" stroke="#000" stroke-width="0.1">ITGB3</text>
<text transform="translate(430.6,422.40) scale(0.86,1)" font-size="6.8" text-anchor="end" fill="#000" stroke="#000" stroke-width="0.1">DYRK3</text>
<text transform="translate(430.6,429.98) scale(0.86,1)" font-size="6.8" text-anchor="end" fill="#000" stroke="#000" stroke-width="0.1">SLC26A2</text>
<text transform="translate(430.6,437.55) scale(0.86,1)" font-size="6.8" text-anchor="end" fill="#000" stroke="#000" stroke-width="0.1">KIT</text>
<text transform="translate(430.6,445.12) scale(0.86,1)" font-size="6.8" text-anchor="end" fill="#000" stroke="#000" stroke-width="0.1">DDX17</text>
<text transform="translate(430.6,452.70) scale(0.86,1)" font-size="6.8" text-anchor="end" fill="#000" stroke="#000" stroke-width="0.1">ANKRD44</text>
<text transform="translate(430.6,460.27) scale(0.86,1)" font-size="6.8" text-anchor="end" fill="#000" stroke="#000" stroke-width="0.1">TRIP4</text>
<text transform="translate(430.6,467.85) scale(0.86,1)" font-size="6.8" text-anchor="end" fill="#000" stroke="#000" stroke-width="0.1">NRAS</text>
<text transform="translate(430.6,475.42) scale(0.86,1)" font-size="6.8" text-anchor="end" fill="#000" stroke="#000" stroke-width="0.1">RIPK4</text>
<rect x="436.7" y="295.50" width="35.10" height="6.70" fill="#878787"/>
<rect x="436.7" y="303.07" width="35.10" height="6.70" fill="#878787"/>
<rect x="436.7" y="310.65" width="35.10" height="6.70" fill="#878787"/>
<rect x="436.7" y="318.23" width="35.10" height="6.70" fill="#878787"/>
<rect x="436.7" y="325.80" width="35.10" height="6.70" fill="#878787"/>
<rect x="436.7" y="333.38" width="35.10" height="6.70" fill="#878787"/>
<rect x="436.7" y="340.95" width="35.10" height="6.70" fill="#878787"/>
<rect x="436.7" y="348.52" width="35.10" height="6.70" fill="#878787"/>
<rect x="436.7" y="356.10" width="35.10" height="6.70" fill="#878787"/>
<rect x="436.7" y="363.68" width="35.10" height="6.70" fill="#878787"/>
<rect x="436.7" y="371.25" width="35.10" height="6.70" fill="#878787"/>
<rect x="436.7" y="378.82" width="34.20" height="6.70" fill="#878787"/>
<rect x="436.7" y="386.40" width="33.00" height="6.70" fill="#878787"/>
<rect x="436.7" y="393.98" width="33.00" height="6.70" fill="#878787"/>
<rect x="436.7" y="401.55" width="31.10" height="6.70" fill="#878787"/>
<rect x="436.7" y="409.12" width="29.90" height="6.70" fill="#878787"/>
<rect x="436.7" y="416.70" width="29.90" height="6.70" fill="#878787"/>
<rect x="436.7" y="424.28" width="29.20" height="6.70" fill="#878787"/>
<rect x="436.7" y="431.85" width="27.50" height="6.70" fill="#878787"/>
<rect x="436.7" y="439.43" width="26.30" height="6.70" fill="#878787"/>
<rect x="436.7" y="447.00" width="23.90" height="6.70" fill="#878787"/>
<rect x="436.7" y="454.57" width="23.90" height="6.70" fill="#878787"/>
<rect x="436.7" y="462.15" width="18.00" height="6.70" fill="#878787"/>
<rect x="436.7" y="469.72" width="16.50" height="6.70" fill="#878787"/>
<line x1="448.7" y1="295.2" x2="448.7" y2="477.3" stroke="#e04030" stroke-width="0.8"/>
<line x1="443.5" y1="295.2" x2="443.5" y2="477.3" stroke="#7e46cc" stroke-width="0.9" stroke-dasharray="3.0,1.6"/>
<line x1="480" y1="300.10" x2="493.2" y2="300.10" stroke="#222" stroke-width="0.95"/>
<line x1="480" y1="306.40" x2="493.2" y2="306.40" stroke="#222" stroke-width="0.95"/>
<line x1="480" y1="312.90" x2="493.2" y2="312.90" stroke="#222" stroke-width="0.95"/>
<line x1="480" y1="320.60" x2="493.2" y2="320.60" stroke="#222" stroke-width="0.95"/>
<line x1="480" y1="328.30" x2="493.2" y2="328.30" stroke="#222" stroke-width="0.95"/>
<line x1="480" y1="335.60" x2="493.2" y2="335.60" stroke="#222" stroke-width="0.95"/>
<line x1="480" y1="343.30" x2="493.2" y2="343.30" stroke="#222" stroke-width="0.95"/>
<line x1="480" y1="351.30" x2="493.2" y2="351.30" stroke="#222" stroke-width="0.95"/>
<line x1="480" y1="359.00" x2="493.2" y2="359.00" stroke="#222" stroke-width="0.95"/>
<line x1="480" y1="366.20" x2="493.2" y2="366.20" stroke="#222" stroke-width="0.95"/>
<line x1="480" y1="374.20" x2="493.2" y2="374.20" stroke="#222" stroke-width="0.95"/>
<line x1="480" y1="380.90" x2="493.2" y2="380.90" stroke="#222" stroke-width="0.95"/>
<line x1="480" y1="388.00" x2="493.2" y2="388.00" stroke="#222" stroke-width="0.95"/>
<line x1="480" y1="395.70" x2="493.2" y2="395.70" stroke="#222" stroke-width="0.95"/>
<line x1="480" y1="402.70" x2="493.2" y2="402.70" stroke="#222" stroke-width="0.95"/>
<line x1="480" y1="410.40" x2="493.2" y2="410.40" stroke="#222" stroke-width="0.95"/>
<line x1="480" y1="418.20" x2="493.2" y2="418.20" stroke="#222" stroke-width="0.95"/>
<line x1="480" y1="426.40" x2="493.2" y2="426.40" stroke="#222" stroke-width="0.95"/>
<line x1="480" y1="434.30" x2="493.2" y2="434.30" stroke="#222" stroke-width="0.95"/>
<line x1="480" y1="466.10" x2="493.2" y2="466.10" stroke="#222" stroke-width="0.95"/>
<line x1="480" y1="472.10" x2="493.2" y2="472.10" stroke="#222" stroke-width="0.95"/>
<path d="M474.4 300.10 L481.0 296.40 L481.0 303.80 Z" fill="#000"/>
<path d="M474.4 306.40 L481.0 302.70 L481.0 310.10 Z" fill="#000"/>
<path d="M474.4 312.90 L481.0 309.20 L481.0 316.60 Z" fill="#000"/>
<path d="M474.4 320.60 L481.0 316.90 L481.0 324.30 Z" fill="#000"/>
<path d="M474.4 328.30 L481.0 324.60 L481.0 332.00 Z" fill="#000"/>
<path d="M474.4 335.60 L481.0 331.90 L481.0 339.30 Z" fill="#000"/>
<path d="M474.4 343.30 L481.0 339.60 L481.0 347.00 Z" fill="#000"/>
<path d="M474.4 351.30 L481.0 347.60 L481.0 355.00 Z" fill="#000"/>
<path d="M474.4 359.00 L481.0 355.30 L481.0 362.70 Z" fill="#000"/>
<path d="M474.4 366.20 L481.0 362.50 L481.0 369.90 Z" fill="#000"/>
<path d="M474.4 374.20 L481.0 370.50 L481.0 377.90 Z" fill="#000"/>
<path d="M474.4 380.90 L481.0 377.20 L481.0 384.60 Z" fill="#000"/>
<path d="M474.4 388.00 L481.0 384.30 L481.0 391.70 Z" fill="#000"/>
<path d="M474.4 395.70 L481.0 392.00 L481.0 399.40 Z" fill="#000"/>
<path d="M474.4 402.70 L481.0 399.00 L481.0 406.40 Z" fill="#000"/>
<path d="M474.4 410.40 L481.0 406.70 L481.0 414.10 Z" fill="#000"/>
<path d="M474.4 418.20 L481.0 414.50 L481.0 421.90 Z" fill="#000"/>
<path d="M474.4 426.40 L481.0 422.70 L481.0 430.10 Z" fill="#000"/>
<path d="M474.4 434.30 L481.0 430.60 L481.0 438.00 Z" fill="#000"/>
<path d="M474.4 466.10 L481.0 462.40 L481.0 469.80 Z" fill="#000"/>
<path d="M474.4 472.10 L481.0 468.40 L481.0 475.80 Z" fill="#000"/>
<line x1="453.8" y1="477.9" x2="484.9" y2="477.9" stroke="#111" stroke-width="0.8"/>
<line x1="442.30" y1="476.6" x2="442.30" y2="480.7" stroke="#111" stroke-width="0.8"/>
<line x1="448.33" y1="476.6" x2="448.33" y2="480.7" stroke="#111" stroke-width="0.8"/>
<line x1="454.36" y1="477.6" x2="454.36" y2="480.7" stroke="#111" stroke-width="0.8"/>
<line x1="460.39" y1="477.6" x2="460.39" y2="480.7" stroke="#111" stroke-width="0.8"/>
<line x1="466.42" y1="477.6" x2="466.42" y2="480.7" stroke="#111" stroke-width="0.8"/>
<line x1="472.45" y1="477.6" x2="472.45" y2="480.7" stroke="#111" stroke-width="0.8"/>
<line x1="478.48" y1="477.6" x2="478.48" y2="480.7" stroke="#111" stroke-width="0.8"/>
<line x1="484.51" y1="477.6" x2="484.51" y2="480.7" stroke="#111" stroke-width="0.8"/>
<text x="441.5" y="489.8" font-size="5.2" text-anchor="middle" fill="#000">0.5</text>
<text x="458.5" y="489.8" font-size="5.2" text-anchor="middle" fill="#000">2.0</text>
<text x="475.6" y="489.8" font-size="5.2" text-anchor="middle" fill="#000">3.5</text>
<text x="463.4" y="496.6" font-size="6.1" text-anchor="middle" fill="#000">-log10(q-value)</text>
<path d="M0.95,230.2 L0.95,247.1 M0.95,238.6 C2.0,236.8 3.7,235.9 5.6,235.9 C8.4,235.9 9.9,238.3 9.9,241.2 C9.9,244.2 8.3,246.3 5.5,246.3 C3.6,246.3 2.0,245.6 0.95,244.0" fill="none" stroke="#000" stroke-width="1.95"/>
<path d="M528.7,245.6 C527.8,244.9 526.6,244.6 525.4,244.6 C522.4,244.6 520.7,246.8 520.7,249.8 C520.7,252.9 522.4,254.9 525.3,254.9 C526.6,254.9 527.8,254.5 528.7,253.8" fill="none" stroke="#000" stroke-width="1.9"/>
<text x="560.8" y="270.4" font-size="8.4" font-weight="bold" fill="#222" textLength="117.5" lengthAdjust="spacingAndGlyphs">Somatic Driver Genes (n=43)</text>
<rect x="551.5" y="273.5" width="133" height="210.1" fill="none" stroke="#6a6a6a" stroke-width="0.8"/>
<line x1="551.5" y1="292.10" x2="553.3" y2="292.10" stroke="#6a6a6a" stroke-width="0.6"/>
<line x1="682.7" y1="292.10" x2="684.5" y2="292.10" stroke="#6a6a6a" stroke-width="0.6"/>
<text x="549.4" y="294.00" font-size="7" font-weight="bold" text-anchor="end" fill="#1e1e1e">1</text>
<line x1="551.5" y1="328.60" x2="553.3" y2="328.60" stroke="#6a6a6a" stroke-width="0.6"/>
<line x1="682.7" y1="328.60" x2="684.5" y2="328.60" stroke="#6a6a6a" stroke-width="0.6"/>
<text x="549.4" y="330.50" font-size="7" font-weight="bold" text-anchor="end" fill="#1e1e1e">0.9</text>
<line x1="551.5" y1="365.10" x2="553.3" y2="365.10" stroke="#6a6a6a" stroke-width="0.6"/>
<line x1="682.7" y1="365.10" x2="684.5" y2="365.10" stroke="#6a6a6a" stroke-width="0.6"/>
<text x="549.4" y="367.00" font-size="7" font-weight="bold" text-anchor="end" fill="#1e1e1e">0.8</text>
<line x1="551.5" y1="401.60" x2="553.3" y2="401.60" stroke="#6a6a6a" stroke-width="0.6"/>
<line x1="682.7" y1="401.60" x2="684.5" y2="401.60" stroke="#6a6a6a" stroke-width="0.6"/>
<text x="549.4" y="403.50" font-size="7" font-weight="bold" text-anchor="end" fill="#1e1e1e">0.7</text>
<line x1="551.5" y1="438.10" x2="553.3" y2="438.10" stroke="#6a6a6a" stroke-width="0.6"/>
<line x1="682.7" y1="438.10" x2="684.5" y2="438.10" stroke="#6a6a6a" stroke-width="0.6"/>
<text x="549.4" y="440.00" font-size="7" font-weight="bold" text-anchor="end" fill="#1e1e1e">0.6</text>
<line x1="551.5" y1="474.60" x2="553.3" y2="474.60" stroke="#6a6a6a" stroke-width="0.6"/>
<line x1="682.7" y1="474.60" x2="684.5" y2="474.60" stroke="#6a6a6a" stroke-width="0.6"/>
<text x="549.4" y="476.50" font-size="7" font-weight="bold" text-anchor="end" fill="#1e1e1e">0.5</text>
<line x1="590.0" y1="483.5" x2="590.0" y2="481.7" stroke="#6a6a6a" stroke-width="0.6"/>
<line x1="590.0" y1="273.7" x2="590.0" y2="275.5" stroke="#6a6a6a" stroke-width="0.6"/>
<line x1="646.2" y1="483.5" x2="646.2" y2="481.7" stroke="#6a6a6a" stroke-width="0.6"/>
<line x1="646.2" y1="273.7" x2="646.2" y2="275.5" stroke="#6a6a6a" stroke-width="0.6"/>
<line x1="590.0" y1="332.4" x2="590.0" y2="382.8" stroke="#707070" stroke-width="0.9" stroke-dasharray="3.2,1.6"/>
<line x1="580.4" y1="382.8" x2="599.6" y2="382.8" stroke="#666" stroke-width="0.8"/>
<line x1="646.2" y1="343.3" x2="646.2" y2="413.3" stroke="#707070" stroke-width="0.9" stroke-dasharray="3.2,1.6"/>
<line x1="636.0" y1="413.3" x2="655.8" y2="413.3" stroke="#444" stroke-width="0.8"/>
<rect x="570.5" y="292.1" width="38.9" height="40.3" fill="#98bbde" stroke="#555" stroke-width="0.8"/>
<rect x="626.5" y="292.1" width="39.1" height="51.2" fill="#98bbde" stroke="#555" stroke-width="0.8"/>
<line x1="626.5" y1="308.4" x2="665.6" y2="308.4" stroke="#4a6078" stroke-width="0.9"/>
<line x1="570.5" y1="292.4" x2="609.4" y2="292.4" stroke="#555" stroke-width="0.6"/>
<rect x="589.90" y="395.40" width="0.8" height="0.8" fill="#b8e6e6"/>
<rect x="645.80" y="437.20" width="0.8" height="0.8" fill="#b8e6e6"/>
<rect x="645.80" y="473.70" width="0.8" height="0.8" fill="#b8e6e6"/>
<text x="590.2" y="494.2" font-size="7.8" font-weight="bold" text-anchor="middle" fill="#1e1e1e">Precision</text>
<text x="646.0" y="494.2" font-size="7.9" font-weight="bold" text-anchor="middle" fill="#1e1e1e">Recall</text>
</svg></body></html>
